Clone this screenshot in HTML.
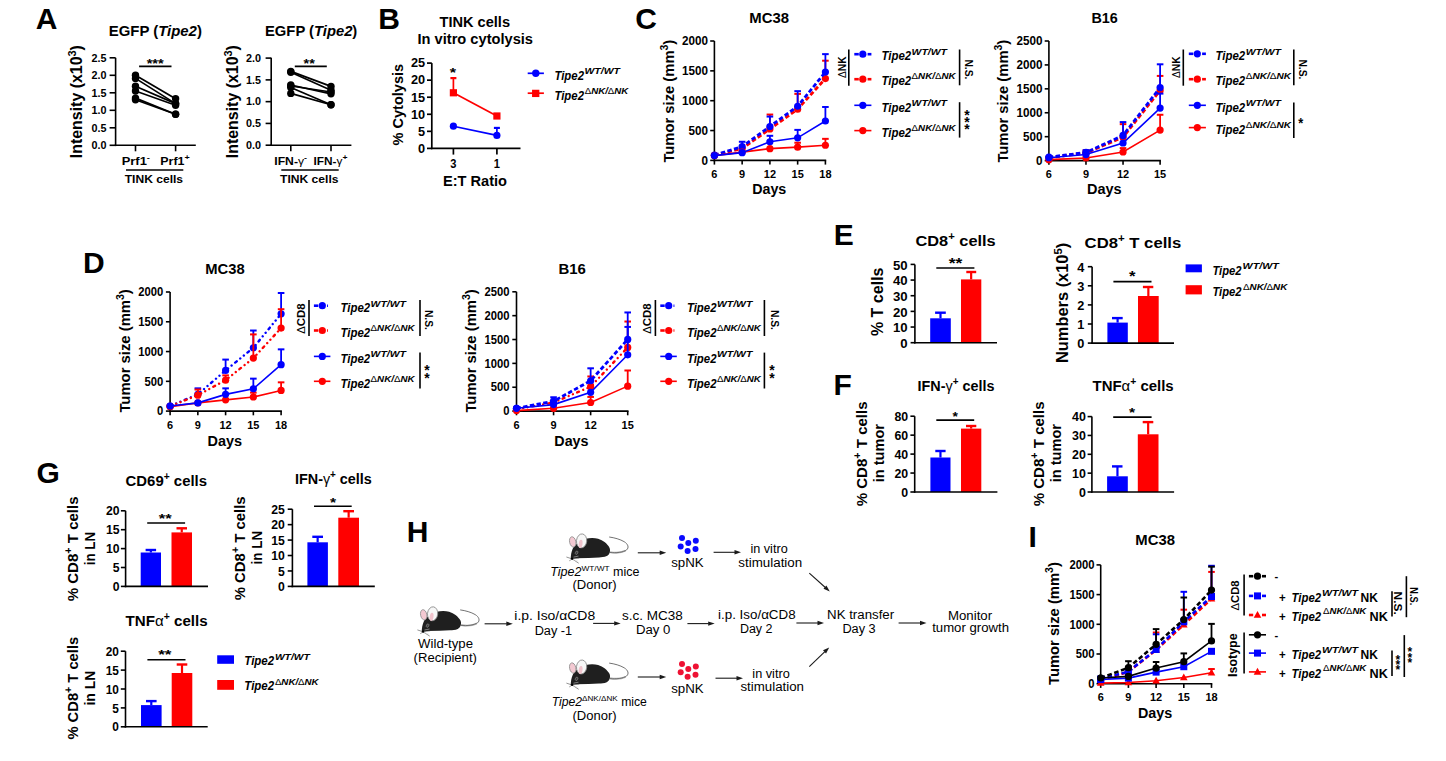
<!DOCTYPE html>
<html><head><meta charset="utf-8"><style>
html,body{margin:0;padding:0;background:#fff;}
svg{display:block;font-family:'Liberation Sans', sans-serif;font-weight:bold;}
</style></head><body>
<svg width="1446" height="761" viewBox="0 0 1446 761">
<rect width="1446" height="761" fill="#fff"/>
<text x="35.80" y="29.00" font-size="30">A</text>
<text x="108.75" y="36.00" font-size="14.5" textLength="93.15" lengthAdjust="spacingAndGlyphs">EGFP (<tspan font-style="italic">Tipe2</tspan>)</text>
<line x1="115.60" y1="146.10" x2="115.60" y2="57.80" stroke="#000" stroke-width="1.6" stroke-linecap="butt"/>
<line x1="109.60" y1="145.30" x2="115.60" y2="145.30" stroke="#000" stroke-width="1.6" stroke-linecap="butt"/>
<text x="91.60" y="149.00" font-size="10" textLength="15.00" lengthAdjust="spacingAndGlyphs">0.0</text>
<line x1="109.60" y1="127.80" x2="115.60" y2="127.80" stroke="#000" stroke-width="1.6" stroke-linecap="butt"/>
<text x="91.60" y="131.50" font-size="10" textLength="15.00" lengthAdjust="spacingAndGlyphs">0.5</text>
<line x1="109.60" y1="110.30" x2="115.60" y2="110.30" stroke="#000" stroke-width="1.6" stroke-linecap="butt"/>
<text x="91.60" y="114.00" font-size="10" textLength="15.00" lengthAdjust="spacingAndGlyphs">1.0</text>
<line x1="109.60" y1="92.80" x2="115.60" y2="92.80" stroke="#000" stroke-width="1.6" stroke-linecap="butt"/>
<text x="91.60" y="96.50" font-size="10" textLength="15.00" lengthAdjust="spacingAndGlyphs">1.5</text>
<line x1="109.60" y1="75.30" x2="115.60" y2="75.30" stroke="#000" stroke-width="1.6" stroke-linecap="butt"/>
<text x="91.60" y="79.00" font-size="10" textLength="15.00" lengthAdjust="spacingAndGlyphs">2.0</text>
<line x1="109.60" y1="57.80" x2="115.60" y2="57.80" stroke="#000" stroke-width="1.6" stroke-linecap="butt"/>
<text x="91.60" y="61.50" font-size="10" textLength="15.00" lengthAdjust="spacingAndGlyphs">2.5</text>
<text x="0.00" y="0.00" font-size="16" textLength="113.10" lengthAdjust="spacingAndGlyphs" transform="translate(82.30,158.20) rotate(-90)">Intensity (x10<tspan font-size="11" dy="-6">3</tspan><tspan dy="6">)</tspan></text>
<line x1="114.80" y1="145.30" x2="195.80" y2="145.30" stroke="#000" stroke-width="1.6" stroke-linecap="butt"/>
<line x1="135.50" y1="145.30" x2="135.50" y2="151.30" stroke="#000" stroke-width="1.6" stroke-linecap="butt"/>
<line x1="175.60" y1="145.30" x2="175.60" y2="151.30" stroke="#000" stroke-width="1.6" stroke-linecap="butt"/>
<text x="121.70" y="164.50" font-size="11" textLength="28.30" lengthAdjust="spacingAndGlyphs">Prf1<tspan font-size="8" dy="-5">-</tspan></text>
<text x="160.30" y="164.50" font-size="11" textLength="29.50" lengthAdjust="spacingAndGlyphs">Prf1<tspan font-size="8" dy="-5">+</tspan></text>
<line x1="126.00" y1="170.00" x2="183.30" y2="170.00" stroke="#000" stroke-width="1.6" stroke-linecap="butt"/>
<text x="124.70" y="183.40" font-size="11.5" textLength="58.40" lengthAdjust="spacingAndGlyphs">TINK cells</text>
<line x1="135.50" y1="75.30" x2="175.60" y2="98.80" stroke="#000" stroke-width="1.7" stroke-linecap="butt"/>
<line x1="135.50" y1="78.40" x2="175.60" y2="103.60" stroke="#000" stroke-width="1.7" stroke-linecap="butt"/>
<line x1="135.50" y1="86.30" x2="175.60" y2="103.60" stroke="#000" stroke-width="1.7" stroke-linecap="butt"/>
<line x1="135.50" y1="91.00" x2="175.60" y2="105.20" stroke="#000" stroke-width="1.7" stroke-linecap="butt"/>
<line x1="135.50" y1="98.10" x2="175.60" y2="114.30" stroke="#000" stroke-width="1.7" stroke-linecap="butt"/>
<line x1="135.50" y1="99.70" x2="175.60" y2="114.30" stroke="#000" stroke-width="1.7" stroke-linecap="butt"/>
<circle cx="135.50" cy="75.30" r="3.7" fill="#000"/>
<circle cx="175.60" cy="98.80" r="3.7" fill="#000"/>
<circle cx="135.50" cy="78.40" r="3.7" fill="#000"/>
<circle cx="175.60" cy="103.60" r="3.7" fill="#000"/>
<circle cx="135.50" cy="86.30" r="3.7" fill="#000"/>
<circle cx="175.60" cy="103.60" r="3.7" fill="#000"/>
<circle cx="135.50" cy="91.00" r="3.7" fill="#000"/>
<circle cx="175.60" cy="105.20" r="3.7" fill="#000"/>
<circle cx="135.50" cy="98.10" r="3.7" fill="#000"/>
<circle cx="175.60" cy="114.30" r="3.7" fill="#000"/>
<circle cx="135.50" cy="99.70" r="3.7" fill="#000"/>
<circle cx="175.60" cy="114.30" r="3.7" fill="#000"/>
<line x1="139.10" y1="66.40" x2="171.50" y2="66.40" stroke="#000" stroke-width="1.6" stroke-linecap="butt"/>
<text x="146.70" y="67.53" font-size="12.5" textLength="17.00" lengthAdjust="spacingAndGlyphs">***</text>
<text x="265.00" y="36.00" font-size="14.5" textLength="92.30" lengthAdjust="spacingAndGlyphs">EGFP (<tspan font-style="italic">Tipe2</tspan>)</text>
<line x1="271.20" y1="146.00" x2="271.20" y2="57.80" stroke="#000" stroke-width="1.6" stroke-linecap="butt"/>
<line x1="265.60" y1="145.20" x2="271.20" y2="145.20" stroke="#000" stroke-width="1.6" stroke-linecap="butt"/>
<text x="246.00" y="148.90" font-size="10" textLength="15.00" lengthAdjust="spacingAndGlyphs">0.0</text>
<line x1="265.60" y1="123.42" x2="271.20" y2="123.42" stroke="#000" stroke-width="1.6" stroke-linecap="butt"/>
<text x="246.00" y="127.12" font-size="10" textLength="15.00" lengthAdjust="spacingAndGlyphs">0.5</text>
<line x1="265.60" y1="101.65" x2="271.20" y2="101.65" stroke="#000" stroke-width="1.6" stroke-linecap="butt"/>
<text x="246.00" y="105.35" font-size="10" textLength="15.00" lengthAdjust="spacingAndGlyphs">1.0</text>
<line x1="265.60" y1="79.88" x2="271.20" y2="79.88" stroke="#000" stroke-width="1.6" stroke-linecap="butt"/>
<text x="246.00" y="83.58" font-size="10" textLength="15.00" lengthAdjust="spacingAndGlyphs">1.5</text>
<line x1="265.60" y1="58.10" x2="271.20" y2="58.10" stroke="#000" stroke-width="1.6" stroke-linecap="butt"/>
<text x="246.00" y="61.80" font-size="10" textLength="15.00" lengthAdjust="spacingAndGlyphs">2.0</text>
<text x="0.00" y="0.00" font-size="16" textLength="113.10" lengthAdjust="spacingAndGlyphs" transform="translate(238.20,158.20) rotate(-90)">Intensity (x10<tspan font-size="11" dy="-6">3</tspan><tspan dy="6">)</tspan></text>
<line x1="270.40" y1="145.20" x2="351.40" y2="145.20" stroke="#000" stroke-width="1.6" stroke-linecap="butt"/>
<line x1="290.80" y1="145.20" x2="290.80" y2="151.20" stroke="#000" stroke-width="1.6" stroke-linecap="butt"/>
<line x1="331.00" y1="145.20" x2="331.00" y2="151.20" stroke="#000" stroke-width="1.6" stroke-linecap="butt"/>
<text x="274.30" y="164.50" font-size="11" textLength="32.70" lengthAdjust="spacingAndGlyphs">IFN-<tspan font-weight="normal">γ</tspan><tspan font-size="8" dy="-5">-</tspan></text>
<text x="313.50" y="164.50" font-size="11" textLength="34.00" lengthAdjust="spacingAndGlyphs">IFN-<tspan font-weight="normal">γ</tspan><tspan font-size="8" dy="-5">+</tspan></text>
<line x1="281.30" y1="170.00" x2="338.70" y2="170.00" stroke="#000" stroke-width="1.6" stroke-linecap="butt"/>
<text x="280.00" y="183.40" font-size="11.5" textLength="58.50" lengthAdjust="spacingAndGlyphs">TINK cells</text>
<line x1="290.80" y1="71.40" x2="331.00" y2="86.40" stroke="#000" stroke-width="1.7" stroke-linecap="butt"/>
<line x1="290.80" y1="72.20" x2="331.00" y2="90.20" stroke="#000" stroke-width="1.7" stroke-linecap="butt"/>
<line x1="290.80" y1="85.00" x2="331.00" y2="93.80" stroke="#000" stroke-width="1.7" stroke-linecap="butt"/>
<line x1="290.80" y1="87.50" x2="331.00" y2="104.80" stroke="#000" stroke-width="1.7" stroke-linecap="butt"/>
<line x1="290.80" y1="86.00" x2="331.00" y2="92.00" stroke="#000" stroke-width="1.7" stroke-linecap="butt"/>
<line x1="290.80" y1="93.40" x2="331.00" y2="104.80" stroke="#000" stroke-width="1.7" stroke-linecap="butt"/>
<circle cx="290.80" cy="71.40" r="3.7" fill="#000"/>
<circle cx="331.00" cy="86.40" r="3.7" fill="#000"/>
<circle cx="290.80" cy="72.20" r="3.7" fill="#000"/>
<circle cx="331.00" cy="90.20" r="3.7" fill="#000"/>
<circle cx="290.80" cy="85.00" r="3.7" fill="#000"/>
<circle cx="331.00" cy="93.80" r="3.7" fill="#000"/>
<circle cx="290.80" cy="87.50" r="3.7" fill="#000"/>
<circle cx="331.00" cy="104.80" r="3.7" fill="#000"/>
<circle cx="290.80" cy="86.00" r="3.7" fill="#000"/>
<circle cx="331.00" cy="92.00" r="3.7" fill="#000"/>
<circle cx="290.80" cy="93.40" r="3.7" fill="#000"/>
<circle cx="331.00" cy="104.80" r="3.7" fill="#000"/>
<line x1="294.80" y1="66.40" x2="326.80" y2="66.40" stroke="#000" stroke-width="1.6" stroke-linecap="butt"/>
<text x="303.60" y="67.53" font-size="12.5" textLength="11.20" lengthAdjust="spacingAndGlyphs">**</text>
<text x="378.20" y="29.25" font-size="30">B</text>
<text x="439.50" y="27.00" font-size="14.5" textLength="70.50" lengthAdjust="spacingAndGlyphs">TINK cells</text>
<text x="417.50" y="43.75" font-size="14.5" textLength="115.50" lengthAdjust="spacingAndGlyphs">In vitro cytolysis</text>
<line x1="431.80" y1="149.20" x2="431.80" y2="63.10" stroke="#000" stroke-width="1.7" stroke-linecap="butt"/>
<line x1="427.00" y1="148.40" x2="431.80" y2="148.40" stroke="#000" stroke-width="1.7" stroke-linecap="butt"/>
<text x="418.10" y="152.70" font-size="12" textLength="7.10" lengthAdjust="spacingAndGlyphs">0</text>
<line x1="427.00" y1="131.34" x2="431.80" y2="131.34" stroke="#000" stroke-width="1.7" stroke-linecap="butt"/>
<text x="418.10" y="135.64" font-size="12" textLength="7.10" lengthAdjust="spacingAndGlyphs">5</text>
<line x1="427.00" y1="114.28" x2="431.80" y2="114.28" stroke="#000" stroke-width="1.7" stroke-linecap="butt"/>
<text x="411.00" y="118.58" font-size="12" textLength="14.20" lengthAdjust="spacingAndGlyphs">10</text>
<line x1="427.00" y1="97.22" x2="431.80" y2="97.22" stroke="#000" stroke-width="1.7" stroke-linecap="butt"/>
<text x="411.00" y="101.52" font-size="12" textLength="14.20" lengthAdjust="spacingAndGlyphs">15</text>
<line x1="427.00" y1="80.16" x2="431.80" y2="80.16" stroke="#000" stroke-width="1.7" stroke-linecap="butt"/>
<text x="411.00" y="84.46" font-size="12" textLength="14.20" lengthAdjust="spacingAndGlyphs">20</text>
<line x1="427.00" y1="63.10" x2="431.80" y2="63.10" stroke="#000" stroke-width="1.7" stroke-linecap="butt"/>
<text x="411.00" y="67.40" font-size="12" textLength="14.20" lengthAdjust="spacingAndGlyphs">25</text>
<line x1="431.00" y1="148.40" x2="520.50" y2="148.40" stroke="#000" stroke-width="1.7" stroke-linecap="butt"/>
<line x1="453.40" y1="148.40" x2="453.40" y2="154.60" stroke="#000" stroke-width="1.7" stroke-linecap="butt"/>
<text x="450.30" y="167.60" font-size="12" textLength="6.20" lengthAdjust="spacingAndGlyphs">3</text>
<line x1="496.90" y1="148.40" x2="496.90" y2="154.60" stroke="#000" stroke-width="1.7" stroke-linecap="butt"/>
<text x="493.80" y="167.60" font-size="12" textLength="6.20" lengthAdjust="spacingAndGlyphs">1</text>
<text x="443.00" y="185.50" font-size="14.5" textLength="64.00" lengthAdjust="spacingAndGlyphs">E:T Ratio</text>
<text x="0.00" y="0.00" font-size="14.5" textLength="81.60" lengthAdjust="spacingAndGlyphs" transform="translate(402.90,145.50) rotate(-90)">% Cytolysis</text>
<line x1="453.40" y1="126.22" x2="496.90" y2="135.43" stroke="#0000ff" stroke-width="1.7" stroke-linecap="butt"/>
<line x1="496.90" y1="135.43" x2="496.90" y2="127.93" stroke="#0000ff" stroke-width="1.7" stroke-linecap="butt"/>
<line x1="493.90" y1="127.93" x2="499.90" y2="127.93" stroke="#0000ff" stroke-width="2.2" stroke-linecap="butt"/>
<circle cx="453.40" cy="126.22" r="3.6" fill="#0000ff"/>
<circle cx="496.90" cy="135.43" r="3.6" fill="#0000ff"/>
<line x1="453.40" y1="92.78" x2="496.90" y2="115.99" stroke="#ff0000" stroke-width="1.7" stroke-linecap="butt"/>
<line x1="453.40" y1="92.78" x2="453.40" y2="78.11" stroke="#ff0000" stroke-width="1.7" stroke-linecap="butt"/>
<line x1="450.40" y1="78.11" x2="456.40" y2="78.11" stroke="#ff0000" stroke-width="2.2" stroke-linecap="butt"/>
<rect x="449.80" y="89.18" width="7.2" height="7.2" fill="#ff0000"/>
<rect x="493.30" y="112.39" width="7.2" height="7.2" fill="#ff0000"/>
<text x="449.70" y="77.42" font-size="12.5" textLength="6.30" lengthAdjust="spacingAndGlyphs">*</text>
<line x1="527.70" y1="73.30" x2="543.90" y2="73.30" stroke="#0000ff" stroke-width="1.7" stroke-linecap="butt"/>
<circle cx="535.80" cy="73.30" r="3.7" fill="#0000ff"/>
<line x1="527.70" y1="93.20" x2="543.90" y2="93.20" stroke="#ff0000" stroke-width="1.7" stroke-linecap="butt"/>
<rect x="532.05" y="89.75" width="7.3" height="7.3" fill="#ff0000"/>
<text x="554.40" y="79.90" font-size="13.2" textLength="29.60" lengthAdjust="spacingAndGlyphs"><tspan font-style="italic">Tipe2</tspan></text>
<text x="584.50" y="73.80" font-size="9.2" textLength="35.40" lengthAdjust="spacingAndGlyphs"><tspan font-style="italic">WT/WT</tspan></text>
<text x="554.40" y="99.70" font-size="13.2" textLength="29.60" lengthAdjust="spacingAndGlyphs"><tspan font-style="italic">Tipe2</tspan></text>
<text x="584.80" y="93.60" font-size="9.2" textLength="43.50" lengthAdjust="spacingAndGlyphs"><tspan font-style="italic"><tspan font-weight="normal" font-style="normal">Δ</tspan>NK/<tspan font-weight="normal" font-style="normal">Δ</tspan>NK</tspan></text>
<text x="635.30" y="28.60" font-size="30">C</text>
<text x="749.30" y="23.00" font-size="15.2" textLength="39.70" lengthAdjust="spacingAndGlyphs">MC38</text>
<text x="1091.40" y="23.10" font-size="15.2" textLength="26.30" lengthAdjust="spacingAndGlyphs">B16</text>
<line x1="714.40" y1="161.20" x2="714.40" y2="41.00" stroke="#000" stroke-width="1.6" stroke-linecap="butt"/>
<line x1="710.20" y1="160.40" x2="714.40" y2="160.40" stroke="#000" stroke-width="1.6" stroke-linecap="butt"/>
<text x="701.60" y="164.60" font-size="12" textLength="6.50" lengthAdjust="spacingAndGlyphs">0</text>
<line x1="710.20" y1="130.55" x2="714.40" y2="130.55" stroke="#000" stroke-width="1.6" stroke-linecap="butt"/>
<text x="688.60" y="134.75" font-size="12" textLength="19.50" lengthAdjust="spacingAndGlyphs">500</text>
<line x1="710.20" y1="100.70" x2="714.40" y2="100.70" stroke="#000" stroke-width="1.6" stroke-linecap="butt"/>
<text x="682.10" y="104.90" font-size="12" textLength="26.00" lengthAdjust="spacingAndGlyphs">1000</text>
<line x1="710.20" y1="70.85" x2="714.40" y2="70.85" stroke="#000" stroke-width="1.6" stroke-linecap="butt"/>
<text x="682.10" y="75.05" font-size="12" textLength="26.00" lengthAdjust="spacingAndGlyphs">1500</text>
<line x1="710.20" y1="41.00" x2="714.40" y2="41.00" stroke="#000" stroke-width="1.6" stroke-linecap="butt"/>
<text x="682.10" y="45.20" font-size="12" textLength="26.00" lengthAdjust="spacingAndGlyphs">2000</text>
<line x1="713.60" y1="160.40" x2="826.20" y2="160.40" stroke="#000" stroke-width="1.6" stroke-linecap="butt"/>
<line x1="714.40" y1="160.40" x2="714.40" y2="164.60" stroke="#000" stroke-width="1.6" stroke-linecap="butt"/>
<text x="711.35" y="178.00" font-size="11.6" textLength="6.10" lengthAdjust="spacingAndGlyphs">6</text>
<line x1="742.15" y1="160.40" x2="742.15" y2="164.60" stroke="#000" stroke-width="1.6" stroke-linecap="butt"/>
<text x="739.10" y="178.00" font-size="11.6" textLength="6.10" lengthAdjust="spacingAndGlyphs">9</text>
<line x1="769.90" y1="160.40" x2="769.90" y2="164.60" stroke="#000" stroke-width="1.6" stroke-linecap="butt"/>
<text x="763.80" y="178.00" font-size="11.6" textLength="12.20" lengthAdjust="spacingAndGlyphs">12</text>
<line x1="797.65" y1="160.40" x2="797.65" y2="164.60" stroke="#000" stroke-width="1.6" stroke-linecap="butt"/>
<text x="791.55" y="178.00" font-size="11.6" textLength="12.20" lengthAdjust="spacingAndGlyphs">15</text>
<line x1="825.40" y1="160.40" x2="825.40" y2="164.60" stroke="#000" stroke-width="1.6" stroke-linecap="butt"/>
<text x="819.30" y="178.00" font-size="11.6" textLength="12.20" lengthAdjust="spacingAndGlyphs">18</text>
<line x1="769.90" y1="128.94" x2="769.90" y2="114.55" stroke="#ff0000" stroke-width="1.8" stroke-linecap="butt"/>
<line x1="766.60" y1="114.55" x2="773.20" y2="114.55" stroke="#ff0000" stroke-width="2.0" stroke-linecap="butt"/>
<line x1="797.65" y1="109.18" x2="797.65" y2="93.89" stroke="#ff0000" stroke-width="1.8" stroke-linecap="butt"/>
<line x1="794.35" y1="93.89" x2="800.95" y2="93.89" stroke="#ff0000" stroke-width="2.0" stroke-linecap="butt"/>
<line x1="825.40" y1="78.61" x2="825.40" y2="60.70" stroke="#ff0000" stroke-width="1.8" stroke-linecap="butt"/>
<line x1="822.10" y1="60.70" x2="828.70" y2="60.70" stroke="#ff0000" stroke-width="2.0" stroke-linecap="butt"/>
<polyline points="714.40,155.33 742.15,148.46 769.90,128.94 797.65,109.18 825.40,78.61" fill="none" stroke="#ff0000" stroke-width="2.8" stroke-dasharray="4.4 2.4" stroke-linecap="butt"/>
<circle cx="714.40" cy="155.33" r="3.6" fill="#ff0000"/>
<circle cx="742.15" cy="148.46" r="3.6" fill="#ff0000"/>
<circle cx="769.90" cy="128.94" r="3.6" fill="#ff0000"/>
<circle cx="797.65" cy="109.18" r="3.6" fill="#ff0000"/>
<circle cx="825.40" cy="78.61" r="3.6" fill="#ff0000"/>
<line x1="742.15" y1="146.67" x2="742.15" y2="141.77" stroke="#0000ff" stroke-width="1.8" stroke-linecap="butt"/>
<line x1="738.85" y1="141.77" x2="745.45" y2="141.77" stroke="#0000ff" stroke-width="2.0" stroke-linecap="butt"/>
<line x1="769.90" y1="126.49" x2="769.90" y2="116.58" stroke="#0000ff" stroke-width="1.8" stroke-linecap="butt"/>
<line x1="766.60" y1="116.58" x2="773.20" y2="116.58" stroke="#0000ff" stroke-width="2.0" stroke-linecap="butt"/>
<line x1="797.65" y1="106.25" x2="797.65" y2="91.15" stroke="#0000ff" stroke-width="1.8" stroke-linecap="butt"/>
<line x1="794.35" y1="91.15" x2="800.95" y2="91.15" stroke="#0000ff" stroke-width="2.0" stroke-linecap="butt"/>
<line x1="825.40" y1="72.04" x2="825.40" y2="54.13" stroke="#0000ff" stroke-width="1.8" stroke-linecap="butt"/>
<line x1="822.10" y1="54.13" x2="828.70" y2="54.13" stroke="#0000ff" stroke-width="2.0" stroke-linecap="butt"/>
<polyline points="714.40,155.03 742.15,146.67 769.90,126.49 797.65,106.25 825.40,72.04" fill="none" stroke="#0000ff" stroke-width="2.8" stroke-dasharray="4.4 2.4" stroke-linecap="butt"/>
<circle cx="714.40" cy="155.03" r="3.6" fill="#0000ff"/>
<circle cx="742.15" cy="146.67" r="3.6" fill="#0000ff"/>
<circle cx="769.90" cy="126.49" r="3.6" fill="#0000ff"/>
<circle cx="797.65" cy="106.25" r="3.6" fill="#0000ff"/>
<circle cx="825.40" cy="72.04" r="3.6" fill="#0000ff"/>
<line x1="797.65" y1="147.15" x2="797.65" y2="142.73" stroke="#ff0000" stroke-width="1.8" stroke-linecap="butt"/>
<line x1="794.35" y1="142.73" x2="800.95" y2="142.73" stroke="#ff0000" stroke-width="2.0" stroke-linecap="butt"/>
<line x1="825.40" y1="145.24" x2="825.40" y2="138.85" stroke="#ff0000" stroke-width="1.8" stroke-linecap="butt"/>
<line x1="822.10" y1="138.85" x2="828.70" y2="138.85" stroke="#ff0000" stroke-width="2.0" stroke-linecap="butt"/>
<polyline points="714.40,155.62 742.15,152.10 769.90,148.64 797.65,147.15 825.40,145.24" fill="none" stroke="#ff0000" stroke-width="1.6"/>
<circle cx="714.40" cy="155.62" r="3.6" fill="#ff0000"/>
<circle cx="742.15" cy="152.10" r="3.6" fill="#ff0000"/>
<circle cx="769.90" cy="148.64" r="3.6" fill="#ff0000"/>
<circle cx="797.65" cy="147.15" r="3.6" fill="#ff0000"/>
<circle cx="825.40" cy="145.24" r="3.6" fill="#ff0000"/>
<line x1="769.90" y1="141.77" x2="769.90" y2="135.80" stroke="#0000ff" stroke-width="1.8" stroke-linecap="butt"/>
<line x1="766.60" y1="135.80" x2="773.20" y2="135.80" stroke="#0000ff" stroke-width="2.0" stroke-linecap="butt"/>
<line x1="797.65" y1="137.83" x2="797.65" y2="129.89" stroke="#0000ff" stroke-width="1.8" stroke-linecap="butt"/>
<line x1="794.35" y1="129.89" x2="800.95" y2="129.89" stroke="#0000ff" stroke-width="2.0" stroke-linecap="butt"/>
<line x1="825.40" y1="121.00" x2="825.40" y2="106.97" stroke="#0000ff" stroke-width="1.8" stroke-linecap="butt"/>
<line x1="822.10" y1="106.97" x2="828.70" y2="106.97" stroke="#0000ff" stroke-width="2.0" stroke-linecap="butt"/>
<polyline points="714.40,155.62 742.15,152.64 769.90,141.77 797.65,137.83 825.40,121.00" fill="none" stroke="#0000ff" stroke-width="1.6"/>
<circle cx="714.40" cy="155.62" r="3.6" fill="#0000ff"/>
<circle cx="742.15" cy="152.64" r="3.6" fill="#0000ff"/>
<circle cx="769.90" cy="141.77" r="3.6" fill="#0000ff"/>
<circle cx="797.65" cy="137.83" r="3.6" fill="#0000ff"/>
<circle cx="825.40" cy="121.00" r="3.6" fill="#0000ff"/>
<text x="0.00" y="0.00" font-size="15.5" textLength="122.90" lengthAdjust="spacingAndGlyphs" transform="translate(674.30,162.60) rotate(-90)">Tumor size (mm<tspan font-size="11" dy="-6">3</tspan><tspan dy="6">)</tspan></text>
<text x="752.20" y="193.90" font-size="14" textLength="34.10" lengthAdjust="spacingAndGlyphs">Days</text>
<line x1="1048.90" y1="161.40" x2="1048.90" y2="41.00" stroke="#000" stroke-width="1.6" stroke-linecap="butt"/>
<line x1="1044.70" y1="160.60" x2="1048.90" y2="160.60" stroke="#000" stroke-width="1.6" stroke-linecap="butt"/>
<text x="1036.10" y="164.80" font-size="12" textLength="6.50" lengthAdjust="spacingAndGlyphs">0</text>
<line x1="1044.70" y1="136.68" x2="1048.90" y2="136.68" stroke="#000" stroke-width="1.6" stroke-linecap="butt"/>
<text x="1023.10" y="140.88" font-size="12" textLength="19.50" lengthAdjust="spacingAndGlyphs">500</text>
<line x1="1044.70" y1="112.76" x2="1048.90" y2="112.76" stroke="#000" stroke-width="1.6" stroke-linecap="butt"/>
<text x="1016.60" y="116.96" font-size="12" textLength="26.00" lengthAdjust="spacingAndGlyphs">1000</text>
<line x1="1044.70" y1="88.84" x2="1048.90" y2="88.84" stroke="#000" stroke-width="1.6" stroke-linecap="butt"/>
<text x="1016.60" y="93.04" font-size="12" textLength="26.00" lengthAdjust="spacingAndGlyphs">1500</text>
<line x1="1044.70" y1="64.92" x2="1048.90" y2="64.92" stroke="#000" stroke-width="1.6" stroke-linecap="butt"/>
<text x="1016.60" y="69.12" font-size="12" textLength="26.00" lengthAdjust="spacingAndGlyphs">2000</text>
<line x1="1044.70" y1="41.00" x2="1048.90" y2="41.00" stroke="#000" stroke-width="1.6" stroke-linecap="butt"/>
<text x="1016.60" y="45.20" font-size="12" textLength="26.00" lengthAdjust="spacingAndGlyphs">2500</text>
<line x1="1048.10" y1="160.60" x2="1160.91" y2="160.60" stroke="#000" stroke-width="1.6" stroke-linecap="butt"/>
<line x1="1048.90" y1="160.60" x2="1048.90" y2="164.80" stroke="#000" stroke-width="1.6" stroke-linecap="butt"/>
<text x="1045.85" y="178.00" font-size="11.6" textLength="6.10" lengthAdjust="spacingAndGlyphs">6</text>
<line x1="1085.97" y1="160.60" x2="1085.97" y2="164.80" stroke="#000" stroke-width="1.6" stroke-linecap="butt"/>
<text x="1082.92" y="178.00" font-size="11.6" textLength="6.10" lengthAdjust="spacingAndGlyphs">9</text>
<line x1="1123.04" y1="160.60" x2="1123.04" y2="164.80" stroke="#000" stroke-width="1.6" stroke-linecap="butt"/>
<text x="1116.94" y="178.00" font-size="11.6" textLength="12.20" lengthAdjust="spacingAndGlyphs">12</text>
<line x1="1160.11" y1="160.60" x2="1160.11" y2="164.80" stroke="#000" stroke-width="1.6" stroke-linecap="butt"/>
<text x="1154.01" y="178.00" font-size="11.6" textLength="12.20" lengthAdjust="spacingAndGlyphs">15</text>
<line x1="1085.97" y1="152.95" x2="1085.97" y2="150.31" stroke="#ff0000" stroke-width="1.8" stroke-linecap="butt"/>
<line x1="1082.67" y1="150.31" x2="1089.27" y2="150.31" stroke="#ff0000" stroke-width="2.0" stroke-linecap="butt"/>
<line x1="1123.04" y1="137.16" x2="1123.04" y2="124.15" stroke="#ff0000" stroke-width="1.8" stroke-linecap="butt"/>
<line x1="1119.74" y1="124.15" x2="1126.34" y2="124.15" stroke="#ff0000" stroke-width="2.0" stroke-linecap="butt"/>
<line x1="1160.11" y1="90.42" x2="1160.11" y2="75.92" stroke="#ff0000" stroke-width="1.8" stroke-linecap="butt"/>
<line x1="1156.81" y1="75.92" x2="1163.41" y2="75.92" stroke="#ff0000" stroke-width="2.0" stroke-linecap="butt"/>
<polyline points="1048.90,157.73 1085.97,152.95 1123.04,137.16 1160.11,90.42" fill="none" stroke="#ff0000" stroke-width="2.8" stroke-dasharray="4.4 2.4" stroke-linecap="butt"/>
<circle cx="1048.90" cy="157.73" r="3.6" fill="#ff0000"/>
<circle cx="1085.97" cy="152.95" r="3.6" fill="#ff0000"/>
<circle cx="1123.04" cy="137.16" r="3.6" fill="#ff0000"/>
<circle cx="1160.11" cy="90.42" r="3.6" fill="#ff0000"/>
<line x1="1085.97" y1="152.47" x2="1085.97" y2="150.31" stroke="#0000ff" stroke-width="1.8" stroke-linecap="butt"/>
<line x1="1082.67" y1="150.31" x2="1089.27" y2="150.31" stroke="#0000ff" stroke-width="2.0" stroke-linecap="butt"/>
<line x1="1123.04" y1="135.39" x2="1123.04" y2="122.09" stroke="#0000ff" stroke-width="1.8" stroke-linecap="butt"/>
<line x1="1119.74" y1="122.09" x2="1126.34" y2="122.09" stroke="#0000ff" stroke-width="2.0" stroke-linecap="butt"/>
<line x1="1160.11" y1="87.55" x2="1160.11" y2="64.30" stroke="#0000ff" stroke-width="1.8" stroke-linecap="butt"/>
<line x1="1156.81" y1="64.30" x2="1163.41" y2="64.30" stroke="#0000ff" stroke-width="2.0" stroke-linecap="butt"/>
<polyline points="1048.90,157.11 1085.97,152.47 1123.04,135.39 1160.11,87.55" fill="none" stroke="#0000ff" stroke-width="2.8" stroke-dasharray="4.4 2.4" stroke-linecap="butt"/>
<circle cx="1048.90" cy="157.11" r="3.6" fill="#0000ff"/>
<circle cx="1085.97" cy="152.47" r="3.6" fill="#0000ff"/>
<circle cx="1123.04" cy="135.39" r="3.6" fill="#0000ff"/>
<circle cx="1160.11" cy="87.55" r="3.6" fill="#0000ff"/>
<line x1="1123.04" y1="151.99" x2="1123.04" y2="148.11" stroke="#ff0000" stroke-width="1.8" stroke-linecap="butt"/>
<line x1="1119.74" y1="148.11" x2="1126.34" y2="148.11" stroke="#ff0000" stroke-width="2.0" stroke-linecap="butt"/>
<line x1="1160.11" y1="130.08" x2="1160.11" y2="114.77" stroke="#ff0000" stroke-width="1.8" stroke-linecap="butt"/>
<line x1="1156.81" y1="114.77" x2="1163.41" y2="114.77" stroke="#ff0000" stroke-width="2.0" stroke-linecap="butt"/>
<polyline points="1048.90,159.64 1085.97,158.02 1123.04,151.99 1160.11,130.08" fill="none" stroke="#ff0000" stroke-width="1.6"/>
<circle cx="1048.90" cy="159.64" r="3.6" fill="#ff0000"/>
<circle cx="1085.97" cy="158.02" r="3.6" fill="#ff0000"/>
<circle cx="1123.04" cy="151.99" r="3.6" fill="#ff0000"/>
<circle cx="1160.11" cy="130.08" r="3.6" fill="#ff0000"/>
<line x1="1160.11" y1="108.07" x2="1160.11" y2="93.62" stroke="#0000ff" stroke-width="1.8" stroke-linecap="butt"/>
<line x1="1156.81" y1="93.62" x2="1163.41" y2="93.62" stroke="#0000ff" stroke-width="2.0" stroke-linecap="butt"/>
<polyline points="1048.90,157.73 1085.97,154.57 1123.04,142.99 1160.11,108.07" fill="none" stroke="#0000ff" stroke-width="1.6"/>
<circle cx="1048.90" cy="157.73" r="3.6" fill="#0000ff"/>
<circle cx="1085.97" cy="154.57" r="3.6" fill="#0000ff"/>
<circle cx="1123.04" cy="142.99" r="3.6" fill="#0000ff"/>
<circle cx="1160.11" cy="108.07" r="3.6" fill="#0000ff"/>
<text x="0.00" y="0.00" font-size="15.5" textLength="122.90" lengthAdjust="spacingAndGlyphs" transform="translate(1008.20,162.60) rotate(-90)">Tumor size (mm<tspan font-size="11" dy="-6">3</tspan><tspan dy="6">)</tspan></text>
<text x="1087.00" y="193.90" font-size="14" textLength="34.60" lengthAdjust="spacingAndGlyphs">Days</text>
<text x="0.00" y="0.00" font-size="11.5" textLength="21.70" lengthAdjust="spacingAndGlyphs" transform="translate(845.80,78.10) rotate(-90)"><tspan font-weight="normal">Δ</tspan>NK</text>
<line x1="848.80" y1="49.50" x2="848.80" y2="85.70" stroke="#000" stroke-width="1.6" stroke-linecap="butt"/>
<line x1="854.30" y1="54.20" x2="858.80" y2="54.20" stroke="#0000ff" stroke-width="2.6" stroke-linecap="butt"/>
<line x1="867.60" y1="54.20" x2="871.40" y2="54.20" stroke="#0000ff" stroke-width="2.6" stroke-linecap="butt"/>
<circle cx="862.80" cy="54.20" r="3.6" fill="#0000ff"/>
<text x="881.50" y="60.40" font-size="12" textLength="29.60" lengthAdjust="spacingAndGlyphs"><tspan font-style="italic">Tipe2</tspan></text>
<text x="911.60" y="55.10" font-size="9.5" textLength="35.30" lengthAdjust="spacingAndGlyphs"><tspan font-style="italic">WT/WT</tspan></text>
<line x1="854.30" y1="79.20" x2="858.80" y2="79.20" stroke="#ff0000" stroke-width="2.6" stroke-linecap="butt"/>
<line x1="867.60" y1="79.20" x2="871.40" y2="79.20" stroke="#ff0000" stroke-width="2.6" stroke-linecap="butt"/>
<circle cx="862.80" cy="79.20" r="3.6" fill="#ff0000"/>
<text x="881.50" y="85.40" font-size="12" textLength="29.60" lengthAdjust="spacingAndGlyphs"><tspan font-style="italic">Tipe2</tspan></text>
<text x="911.60" y="79.40" font-size="9.5" textLength="43.90" lengthAdjust="spacingAndGlyphs"><tspan font-style="italic"><tspan font-weight="normal" font-style="normal">Δ</tspan>NK/<tspan font-weight="normal" font-style="normal">Δ</tspan>NK</tspan></text>
<line x1="854.30" y1="105.30" x2="871.40" y2="105.30" stroke="#0000ff" stroke-width="1.6" stroke-linecap="butt"/>
<circle cx="862.80" cy="105.30" r="3.6" fill="#0000ff"/>
<text x="881.50" y="111.50" font-size="12" textLength="29.60" lengthAdjust="spacingAndGlyphs"><tspan font-style="italic">Tipe2</tspan></text>
<text x="911.60" y="106.20" font-size="9.5" textLength="35.30" lengthAdjust="spacingAndGlyphs"><tspan font-style="italic">WT/WT</tspan></text>
<line x1="854.30" y1="130.60" x2="871.40" y2="130.60" stroke="#ff0000" stroke-width="1.6" stroke-linecap="butt"/>
<circle cx="862.80" cy="130.60" r="3.6" fill="#ff0000"/>
<text x="881.50" y="136.80" font-size="12" textLength="29.60" lengthAdjust="spacingAndGlyphs"><tspan font-style="italic">Tipe2</tspan></text>
<text x="911.60" y="130.80" font-size="9.5" textLength="43.90" lengthAdjust="spacingAndGlyphs"><tspan font-style="italic"><tspan font-weight="normal" font-style="normal">Δ</tspan>NK/<tspan font-weight="normal" font-style="normal">Δ</tspan>NK</tspan></text>
<line x1="959.60" y1="49.50" x2="959.60" y2="85.30" stroke="#000" stroke-width="1.6" stroke-linecap="butt"/>
<line x1="959.60" y1="102.20" x2="959.60" y2="137.60" stroke="#000" stroke-width="1.6" stroke-linecap="butt"/>
<text x="0.00" y="0.00" font-size="11" textLength="20.00" lengthAdjust="spacingAndGlyphs" transform="translate(964.60,59.40) rotate(90)">N.S.</text>
<text x="964.24" y="119.64" font-size="14">*</text>
<text x="964.24" y="126.74" font-size="14">*</text>
<text x="964.24" y="133.84" font-size="14">*</text>
<text x="0.00" y="0.00" font-size="11.5" textLength="21.70" lengthAdjust="spacingAndGlyphs" transform="translate(1180.30,78.10) rotate(-90)"><tspan font-weight="normal">Δ</tspan>NK</text>
<line x1="1183.30" y1="49.50" x2="1183.30" y2="85.70" stroke="#000" stroke-width="1.6" stroke-linecap="butt"/>
<line x1="1188.80" y1="53.80" x2="1193.30" y2="53.80" stroke="#0000ff" stroke-width="2.6" stroke-linecap="butt"/>
<line x1="1202.10" y1="53.80" x2="1205.90" y2="53.80" stroke="#0000ff" stroke-width="2.6" stroke-linecap="butt"/>
<circle cx="1197.30" cy="53.80" r="3.6" fill="#0000ff"/>
<text x="1215.60" y="60.00" font-size="12" textLength="29.60" lengthAdjust="spacingAndGlyphs"><tspan font-style="italic">Tipe2</tspan></text>
<text x="1245.70" y="54.70" font-size="9.5" textLength="35.30" lengthAdjust="spacingAndGlyphs"><tspan font-style="italic">WT/WT</tspan></text>
<line x1="1188.80" y1="79.20" x2="1193.30" y2="79.20" stroke="#ff0000" stroke-width="2.6" stroke-linecap="butt"/>
<line x1="1202.10" y1="79.20" x2="1205.90" y2="79.20" stroke="#ff0000" stroke-width="2.6" stroke-linecap="butt"/>
<circle cx="1197.30" cy="79.20" r="3.6" fill="#ff0000"/>
<text x="1215.60" y="85.40" font-size="12" textLength="29.60" lengthAdjust="spacingAndGlyphs"><tspan font-style="italic">Tipe2</tspan></text>
<text x="1245.70" y="79.40" font-size="9.5" textLength="45.30" lengthAdjust="spacingAndGlyphs"><tspan font-style="italic"><tspan font-weight="normal" font-style="normal">Δ</tspan>NK/<tspan font-weight="normal" font-style="normal">Δ</tspan>NK</tspan></text>
<line x1="1188.80" y1="105.30" x2="1205.90" y2="105.30" stroke="#0000ff" stroke-width="1.6" stroke-linecap="butt"/>
<circle cx="1197.30" cy="105.30" r="3.6" fill="#0000ff"/>
<text x="1215.60" y="111.50" font-size="12" textLength="29.60" lengthAdjust="spacingAndGlyphs"><tspan font-style="italic">Tipe2</tspan></text>
<text x="1245.70" y="106.20" font-size="9.5" textLength="35.30" lengthAdjust="spacingAndGlyphs"><tspan font-style="italic">WT/WT</tspan></text>
<line x1="1188.80" y1="127.60" x2="1205.90" y2="127.60" stroke="#ff0000" stroke-width="1.6" stroke-linecap="butt"/>
<circle cx="1197.30" cy="127.60" r="3.6" fill="#ff0000"/>
<text x="1215.60" y="133.80" font-size="12" textLength="29.60" lengthAdjust="spacingAndGlyphs"><tspan font-style="italic">Tipe2</tspan></text>
<text x="1245.70" y="127.80" font-size="9.5" textLength="45.30" lengthAdjust="spacingAndGlyphs"><tspan font-style="italic"><tspan font-weight="normal" font-style="normal">Δ</tspan>NK/<tspan font-weight="normal" font-style="normal">Δ</tspan>NK</tspan></text>
<line x1="1293.80" y1="49.50" x2="1293.80" y2="85.30" stroke="#000" stroke-width="1.6" stroke-linecap="butt"/>
<line x1="1293.80" y1="102.40" x2="1293.80" y2="137.90" stroke="#000" stroke-width="1.6" stroke-linecap="butt"/>
<text x="0.00" y="0.00" font-size="11" textLength="20.00" lengthAdjust="spacingAndGlyphs" transform="translate(1299.10,59.40) rotate(90)">N.S.</text>
<text x="1298.20" y="127.66" font-size="14" textLength="5.00" lengthAdjust="spacingAndGlyphs">*</text>
<text x="83.00" y="272.60" font-size="30">D</text>
<text x="205.30" y="273.70" font-size="15.2" textLength="39.40" lengthAdjust="spacingAndGlyphs">MC38</text>
<text x="558.40" y="273.70" font-size="15.2" textLength="27.40" lengthAdjust="spacingAndGlyphs">B16</text>
<line x1="170.10" y1="411.90" x2="170.10" y2="292.00" stroke="#000" stroke-width="1.6" stroke-linecap="butt"/>
<line x1="165.90" y1="411.10" x2="170.10" y2="411.10" stroke="#000" stroke-width="1.6" stroke-linecap="butt"/>
<text x="156.95" y="415.30" font-size="12" textLength="6.25" lengthAdjust="spacingAndGlyphs">0</text>
<line x1="165.90" y1="381.33" x2="170.10" y2="381.33" stroke="#000" stroke-width="1.6" stroke-linecap="butt"/>
<text x="144.45" y="385.53" font-size="12" textLength="18.75" lengthAdjust="spacingAndGlyphs">500</text>
<line x1="165.90" y1="351.55" x2="170.10" y2="351.55" stroke="#000" stroke-width="1.6" stroke-linecap="butt"/>
<text x="138.20" y="355.75" font-size="12" textLength="25.00" lengthAdjust="spacingAndGlyphs">1000</text>
<line x1="165.90" y1="321.77" x2="170.10" y2="321.77" stroke="#000" stroke-width="1.6" stroke-linecap="butt"/>
<text x="138.20" y="325.97" font-size="12" textLength="25.00" lengthAdjust="spacingAndGlyphs">1500</text>
<line x1="165.90" y1="292.00" x2="170.10" y2="292.00" stroke="#000" stroke-width="1.6" stroke-linecap="butt"/>
<text x="138.20" y="296.20" font-size="12" textLength="25.00" lengthAdjust="spacingAndGlyphs">2000</text>
<line x1="169.30" y1="411.10" x2="281.90" y2="411.10" stroke="#000" stroke-width="1.6" stroke-linecap="butt"/>
<line x1="170.10" y1="411.10" x2="170.10" y2="415.30" stroke="#000" stroke-width="1.6" stroke-linecap="butt"/>
<text x="167.05" y="428.60" font-size="11.6" textLength="6.10" lengthAdjust="spacingAndGlyphs">6</text>
<line x1="197.85" y1="411.10" x2="197.85" y2="415.30" stroke="#000" stroke-width="1.6" stroke-linecap="butt"/>
<text x="194.80" y="428.60" font-size="11.6" textLength="6.10" lengthAdjust="spacingAndGlyphs">9</text>
<line x1="225.60" y1="411.10" x2="225.60" y2="415.30" stroke="#000" stroke-width="1.6" stroke-linecap="butt"/>
<text x="219.50" y="428.60" font-size="11.6" textLength="12.20" lengthAdjust="spacingAndGlyphs">12</text>
<line x1="253.35" y1="411.10" x2="253.35" y2="415.30" stroke="#000" stroke-width="1.6" stroke-linecap="butt"/>
<text x="247.25" y="428.60" font-size="11.6" textLength="12.20" lengthAdjust="spacingAndGlyphs">15</text>
<line x1="281.10" y1="411.10" x2="281.10" y2="415.30" stroke="#000" stroke-width="1.6" stroke-linecap="butt"/>
<text x="275.00" y="428.60" font-size="11.6" textLength="12.20" lengthAdjust="spacingAndGlyphs">18</text>
<line x1="197.85" y1="394.37" x2="197.85" y2="388.35" stroke="#0000ff" stroke-width="1.8" stroke-linecap="butt"/>
<line x1="194.55" y1="388.35" x2="201.15" y2="388.35" stroke="#0000ff" stroke-width="2.0" stroke-linecap="butt"/>
<line x1="225.60" y1="370.43" x2="225.60" y2="359.59" stroke="#0000ff" stroke-width="1.8" stroke-linecap="butt"/>
<line x1="222.30" y1="359.59" x2="228.90" y2="359.59" stroke="#0000ff" stroke-width="2.0" stroke-linecap="butt"/>
<line x1="253.35" y1="347.74" x2="253.35" y2="330.53" stroke="#0000ff" stroke-width="1.8" stroke-linecap="butt"/>
<line x1="250.05" y1="330.53" x2="256.65" y2="330.53" stroke="#0000ff" stroke-width="2.0" stroke-linecap="butt"/>
<line x1="281.10" y1="313.85" x2="281.10" y2="293.01" stroke="#0000ff" stroke-width="1.8" stroke-linecap="butt"/>
<line x1="277.80" y1="293.01" x2="284.40" y2="293.01" stroke="#0000ff" stroke-width="2.0" stroke-linecap="butt"/>
<polyline points="170.10,405.98 197.85,394.37 225.60,370.43 253.35,347.74 281.10,313.85" fill="none" stroke="#0000ff" stroke-width="2.4" stroke-dasharray="2.0 4.6 0.01 4.6 0.01 4.6" stroke-linecap="round"/>
<circle cx="170.10" cy="405.98" r="3.6" fill="#0000ff"/>
<circle cx="197.85" cy="394.37" r="3.6" fill="#0000ff"/>
<circle cx="225.60" cy="370.43" r="3.6" fill="#0000ff"/>
<circle cx="253.35" cy="347.74" r="3.6" fill="#0000ff"/>
<circle cx="281.10" cy="313.85" r="3.6" fill="#0000ff"/>
<line x1="197.85" y1="395.14" x2="197.85" y2="389.54" stroke="#ff0000" stroke-width="1.8" stroke-linecap="butt"/>
<line x1="194.55" y1="389.54" x2="201.15" y2="389.54" stroke="#ff0000" stroke-width="2.0" stroke-linecap="butt"/>
<line x1="225.60" y1="380.13" x2="225.60" y2="375.37" stroke="#ff0000" stroke-width="1.8" stroke-linecap="butt"/>
<line x1="222.30" y1="375.37" x2="228.90" y2="375.37" stroke="#ff0000" stroke-width="2.0" stroke-linecap="butt"/>
<line x1="253.35" y1="358.10" x2="253.35" y2="334.40" stroke="#ff0000" stroke-width="1.8" stroke-linecap="butt"/>
<line x1="250.05" y1="334.40" x2="256.65" y2="334.40" stroke="#ff0000" stroke-width="2.0" stroke-linecap="butt"/>
<line x1="281.10" y1="328.09" x2="281.10" y2="309.21" stroke="#ff0000" stroke-width="1.8" stroke-linecap="butt"/>
<line x1="277.80" y1="309.21" x2="284.40" y2="309.21" stroke="#ff0000" stroke-width="2.0" stroke-linecap="butt"/>
<polyline points="170.10,406.34 197.85,395.14 225.60,380.13 253.35,358.10 281.10,328.09" fill="none" stroke="#ff0000" stroke-width="2.4" stroke-dasharray="2.0 4.6 0.01 4.6 0.01 4.6" stroke-linecap="round"/>
<circle cx="170.10" cy="406.34" r="3.6" fill="#ff0000"/>
<circle cx="197.85" cy="395.14" r="3.6" fill="#ff0000"/>
<circle cx="225.60" cy="380.13" r="3.6" fill="#ff0000"/>
<circle cx="253.35" cy="358.10" r="3.6" fill="#ff0000"/>
<circle cx="281.10" cy="328.09" r="3.6" fill="#ff0000"/>
<line x1="253.35" y1="396.99" x2="253.35" y2="392.64" stroke="#ff0000" stroke-width="1.8" stroke-linecap="butt"/>
<line x1="250.05" y1="392.64" x2="256.65" y2="392.64" stroke="#ff0000" stroke-width="2.0" stroke-linecap="butt"/>
<line x1="281.10" y1="390.44" x2="281.10" y2="382.34" stroke="#ff0000" stroke-width="1.8" stroke-linecap="butt"/>
<line x1="277.80" y1="382.34" x2="284.40" y2="382.34" stroke="#ff0000" stroke-width="2.0" stroke-linecap="butt"/>
<polyline points="170.10,406.63 197.85,402.88 225.60,399.85 253.35,396.99 281.10,390.44" fill="none" stroke="#ff0000" stroke-width="1.6"/>
<circle cx="170.10" cy="406.63" r="3.6" fill="#ff0000"/>
<circle cx="197.85" cy="402.88" r="3.6" fill="#ff0000"/>
<circle cx="225.60" cy="399.85" r="3.6" fill="#ff0000"/>
<circle cx="253.35" cy="396.99" r="3.6" fill="#ff0000"/>
<circle cx="281.10" cy="390.44" r="3.6" fill="#ff0000"/>
<line x1="225.60" y1="394.37" x2="225.60" y2="388.35" stroke="#0000ff" stroke-width="1.8" stroke-linecap="butt"/>
<line x1="222.30" y1="388.35" x2="228.90" y2="388.35" stroke="#0000ff" stroke-width="2.0" stroke-linecap="butt"/>
<line x1="253.35" y1="388.77" x2="253.35" y2="378.65" stroke="#0000ff" stroke-width="1.8" stroke-linecap="butt"/>
<line x1="250.05" y1="378.65" x2="256.65" y2="378.65" stroke="#0000ff" stroke-width="2.0" stroke-linecap="butt"/>
<line x1="281.10" y1="364.71" x2="281.10" y2="349.35" stroke="#0000ff" stroke-width="1.8" stroke-linecap="butt"/>
<line x1="277.80" y1="349.35" x2="284.40" y2="349.35" stroke="#0000ff" stroke-width="2.0" stroke-linecap="butt"/>
<polyline points="170.10,405.98 197.85,402.88 225.60,394.37 253.35,388.77 281.10,364.71" fill="none" stroke="#0000ff" stroke-width="1.6"/>
<circle cx="170.10" cy="405.98" r="3.6" fill="#0000ff"/>
<circle cx="197.85" cy="402.88" r="3.6" fill="#0000ff"/>
<circle cx="225.60" cy="394.37" r="3.6" fill="#0000ff"/>
<circle cx="253.35" cy="388.77" r="3.6" fill="#0000ff"/>
<circle cx="281.10" cy="364.71" r="3.6" fill="#0000ff"/>
<text x="0.00" y="0.00" font-size="15.5" textLength="123.40" lengthAdjust="spacingAndGlyphs" transform="translate(129.80,412.60) rotate(-90)">Tumor size (mm<tspan font-size="11" dy="-6">3</tspan><tspan dy="6">)</tspan></text>
<text x="207.50" y="445.60" font-size="14" textLength="34.50" lengthAdjust="spacingAndGlyphs">Days</text>
<line x1="516.50" y1="411.90" x2="516.50" y2="291.80" stroke="#000" stroke-width="1.6" stroke-linecap="butt"/>
<line x1="512.30" y1="411.10" x2="516.50" y2="411.10" stroke="#000" stroke-width="1.6" stroke-linecap="butt"/>
<text x="503.35" y="415.30" font-size="12" textLength="6.25" lengthAdjust="spacingAndGlyphs">0</text>
<line x1="512.30" y1="387.24" x2="516.50" y2="387.24" stroke="#000" stroke-width="1.6" stroke-linecap="butt"/>
<text x="490.85" y="391.44" font-size="12" textLength="18.75" lengthAdjust="spacingAndGlyphs">500</text>
<line x1="512.30" y1="363.38" x2="516.50" y2="363.38" stroke="#000" stroke-width="1.6" stroke-linecap="butt"/>
<text x="484.60" y="367.58" font-size="12" textLength="25.00" lengthAdjust="spacingAndGlyphs">1000</text>
<line x1="512.30" y1="339.52" x2="516.50" y2="339.52" stroke="#000" stroke-width="1.6" stroke-linecap="butt"/>
<text x="484.60" y="343.72" font-size="12" textLength="25.00" lengthAdjust="spacingAndGlyphs">1500</text>
<line x1="512.30" y1="315.66" x2="516.50" y2="315.66" stroke="#000" stroke-width="1.6" stroke-linecap="butt"/>
<text x="484.60" y="319.86" font-size="12" textLength="25.00" lengthAdjust="spacingAndGlyphs">2000</text>
<line x1="512.30" y1="291.80" x2="516.50" y2="291.80" stroke="#000" stroke-width="1.6" stroke-linecap="butt"/>
<text x="484.60" y="296.00" font-size="12" textLength="25.00" lengthAdjust="spacingAndGlyphs">2500</text>
<line x1="515.70" y1="411.10" x2="628.51" y2="411.10" stroke="#000" stroke-width="1.6" stroke-linecap="butt"/>
<line x1="516.50" y1="411.10" x2="516.50" y2="415.30" stroke="#000" stroke-width="1.6" stroke-linecap="butt"/>
<text x="513.45" y="428.60" font-size="11.6" textLength="6.10" lengthAdjust="spacingAndGlyphs">6</text>
<line x1="553.57" y1="411.10" x2="553.57" y2="415.30" stroke="#000" stroke-width="1.6" stroke-linecap="butt"/>
<text x="550.52" y="428.60" font-size="11.6" textLength="6.10" lengthAdjust="spacingAndGlyphs">9</text>
<line x1="590.64" y1="411.10" x2="590.64" y2="415.30" stroke="#000" stroke-width="1.6" stroke-linecap="butt"/>
<text x="584.54" y="428.60" font-size="11.6" textLength="12.20" lengthAdjust="spacingAndGlyphs">12</text>
<line x1="627.71" y1="411.10" x2="627.71" y2="415.30" stroke="#000" stroke-width="1.6" stroke-linecap="butt"/>
<text x="621.61" y="428.60" font-size="11.6" textLength="12.20" lengthAdjust="spacingAndGlyphs">15</text>
<line x1="590.64" y1="386.67" x2="590.64" y2="376.46" stroke="#ff0000" stroke-width="1.8" stroke-linecap="butt"/>
<line x1="587.34" y1="376.46" x2="593.94" y2="376.46" stroke="#ff0000" stroke-width="2.0" stroke-linecap="butt"/>
<line x1="627.71" y1="347.44" x2="627.71" y2="321.53" stroke="#ff0000" stroke-width="1.8" stroke-linecap="butt"/>
<line x1="624.41" y1="321.53" x2="631.01" y2="321.53" stroke="#ff0000" stroke-width="2.0" stroke-linecap="butt"/>
<polyline points="516.50,409.19 553.57,402.51 590.64,386.67 627.71,347.44" fill="none" stroke="#ff0000" stroke-width="2.4" stroke-dasharray="2.0 4.6 0.01 4.6 0.01 4.6" stroke-linecap="round"/>
<circle cx="516.50" cy="409.19" r="3.6" fill="#ff0000"/>
<circle cx="553.57" cy="402.51" r="3.6" fill="#ff0000"/>
<circle cx="590.64" cy="386.67" r="3.6" fill="#ff0000"/>
<circle cx="627.71" cy="347.44" r="3.6" fill="#ff0000"/>
<line x1="553.57" y1="401.22" x2="553.57" y2="397.26" stroke="#0000ff" stroke-width="1.8" stroke-linecap="butt"/>
<line x1="550.27" y1="397.26" x2="556.87" y2="397.26" stroke="#0000ff" stroke-width="2.0" stroke-linecap="butt"/>
<line x1="590.64" y1="380.75" x2="590.64" y2="368.30" stroke="#0000ff" stroke-width="1.8" stroke-linecap="butt"/>
<line x1="587.34" y1="368.30" x2="593.94" y2="368.30" stroke="#0000ff" stroke-width="2.0" stroke-linecap="butt"/>
<line x1="627.71" y1="339.42" x2="627.71" y2="312.46" stroke="#0000ff" stroke-width="1.8" stroke-linecap="butt"/>
<line x1="624.41" y1="312.46" x2="631.01" y2="312.46" stroke="#0000ff" stroke-width="2.0" stroke-linecap="butt"/>
<polyline points="516.50,408.28 553.57,401.22 590.64,380.75 627.71,339.42" fill="none" stroke="#0000ff" stroke-width="2.8" stroke-dasharray="4.4 2.4" stroke-linecap="butt"/>
<circle cx="516.50" cy="408.28" r="3.6" fill="#0000ff"/>
<circle cx="553.57" cy="401.22" r="3.6" fill="#0000ff"/>
<circle cx="590.64" cy="380.75" r="3.6" fill="#0000ff"/>
<circle cx="627.71" cy="339.42" r="3.6" fill="#0000ff"/>
<line x1="590.64" y1="402.51" x2="590.64" y2="396.93" stroke="#ff0000" stroke-width="1.8" stroke-linecap="butt"/>
<line x1="587.34" y1="396.93" x2="593.94" y2="396.93" stroke="#ff0000" stroke-width="2.0" stroke-linecap="butt"/>
<line x1="627.71" y1="386.14" x2="627.71" y2="370.49" stroke="#ff0000" stroke-width="1.8" stroke-linecap="butt"/>
<line x1="624.41" y1="370.49" x2="631.01" y2="370.49" stroke="#ff0000" stroke-width="2.0" stroke-linecap="butt"/>
<polyline points="516.50,410.62 553.57,408.28 590.64,402.51 627.71,386.14" fill="none" stroke="#ff0000" stroke-width="1.6"/>
<circle cx="516.50" cy="410.62" r="3.6" fill="#ff0000"/>
<circle cx="553.57" cy="408.28" r="3.6" fill="#ff0000"/>
<circle cx="590.64" cy="402.51" r="3.6" fill="#ff0000"/>
<circle cx="627.71" cy="386.14" r="3.6" fill="#ff0000"/>
<line x1="627.71" y1="354.79" x2="627.71" y2="326.92" stroke="#0000ff" stroke-width="1.8" stroke-linecap="butt"/>
<line x1="624.41" y1="326.92" x2="631.01" y2="326.92" stroke="#0000ff" stroke-width="2.0" stroke-linecap="butt"/>
<polyline points="516.50,408.28 553.57,404.61 590.64,392.35 627.71,354.79" fill="none" stroke="#0000ff" stroke-width="1.6"/>
<circle cx="516.50" cy="408.28" r="3.6" fill="#0000ff"/>
<circle cx="553.57" cy="404.61" r="3.6" fill="#0000ff"/>
<circle cx="590.64" cy="392.35" r="3.6" fill="#0000ff"/>
<circle cx="627.71" cy="354.79" r="3.6" fill="#0000ff"/>
<text x="0.00" y="0.00" font-size="15.5" textLength="123.40" lengthAdjust="spacingAndGlyphs" transform="translate(475.80,412.60) rotate(-90)">Tumor size (mm<tspan font-size="11" dy="-6">3</tspan><tspan dy="6">)</tspan></text>
<text x="554.30" y="445.60" font-size="14" textLength="34.20" lengthAdjust="spacingAndGlyphs">Days</text>
<text x="0.00" y="0.00" font-size="11.5" textLength="30.30" lengthAdjust="spacingAndGlyphs" transform="translate(304.60,333.80) rotate(-90)"><tspan font-weight="normal">Δ</tspan>CD8</text>
<line x1="309.00" y1="300.00" x2="309.00" y2="336.00" stroke="#000" stroke-width="1.6" stroke-linecap="butt"/>
<line x1="313.90" y1="305.70" x2="318.30" y2="305.70" stroke="#0000ff" stroke-width="2.6" stroke-linecap="butt"/>
<line x1="327.10" y1="305.70" x2="328.00" y2="305.70" stroke="#0000ff" stroke-width="2.6" stroke-linecap="butt"/>
<circle cx="322.30" cy="305.70" r="3.6" fill="#0000ff"/>
<text x="340.50" y="311.90" font-size="12" textLength="29.60" lengthAdjust="spacingAndGlyphs"><tspan font-style="italic">Tipe2</tspan></text>
<text x="370.60" y="306.60" font-size="9.5" textLength="35.30" lengthAdjust="spacingAndGlyphs"><tspan font-style="italic">WT/WT</tspan></text>
<line x1="313.90" y1="330.50" x2="318.30" y2="330.50" stroke="#ff0000" stroke-width="2.6" stroke-linecap="butt"/>
<line x1="327.10" y1="330.50" x2="328.00" y2="330.50" stroke="#ff0000" stroke-width="2.6" stroke-linecap="butt"/>
<circle cx="322.30" cy="330.50" r="3.6" fill="#ff0000"/>
<text x="340.50" y="336.70" font-size="12" textLength="29.60" lengthAdjust="spacingAndGlyphs"><tspan font-style="italic">Tipe2</tspan></text>
<text x="370.60" y="330.70" font-size="9.5" textLength="43.90" lengthAdjust="spacingAndGlyphs"><tspan font-style="italic"><tspan font-weight="normal" font-style="normal">Δ</tspan>NK/<tspan font-weight="normal" font-style="normal">Δ</tspan>NK</tspan></text>
<line x1="313.90" y1="356.40" x2="330.40" y2="356.40" stroke="#0000ff" stroke-width="1.6" stroke-linecap="butt"/>
<circle cx="322.30" cy="356.40" r="3.6" fill="#0000ff"/>
<text x="340.50" y="362.60" font-size="12" textLength="29.60" lengthAdjust="spacingAndGlyphs"><tspan font-style="italic">Tipe2</tspan></text>
<text x="370.60" y="357.30" font-size="9.5" textLength="35.30" lengthAdjust="spacingAndGlyphs"><tspan font-style="italic">WT/WT</tspan></text>
<line x1="313.90" y1="381.30" x2="330.40" y2="381.30" stroke="#ff0000" stroke-width="1.6" stroke-linecap="butt"/>
<circle cx="322.30" cy="381.30" r="3.6" fill="#ff0000"/>
<text x="340.50" y="387.50" font-size="12" textLength="29.60" lengthAdjust="spacingAndGlyphs"><tspan font-style="italic">Tipe2</tspan></text>
<text x="370.60" y="381.50" font-size="9.5" textLength="43.90" lengthAdjust="spacingAndGlyphs"><tspan font-style="italic"><tspan font-weight="normal" font-style="normal">Δ</tspan>NK/<tspan font-weight="normal" font-style="normal">Δ</tspan>NK</tspan></text>
<line x1="420.00" y1="300.00" x2="420.00" y2="336.00" stroke="#000" stroke-width="1.6" stroke-linecap="butt"/>
<line x1="420.00" y1="352.60" x2="420.00" y2="388.50" stroke="#000" stroke-width="1.6" stroke-linecap="butt"/>
<text x="0.00" y="0.00" font-size="11" textLength="20.00" lengthAdjust="spacingAndGlyphs" transform="translate(425.40,309.90) rotate(90)">N.S.</text>
<text x="424.24" y="375.34" font-size="14">*</text>
<text x="424.24" y="383.24" font-size="14">*</text>
<text x="0.00" y="0.00" font-size="11.5" textLength="30.30" lengthAdjust="spacingAndGlyphs" transform="translate(651.00,333.80) rotate(-90)"><tspan font-weight="normal">Δ</tspan>CD8</text>
<line x1="655.40" y1="300.00" x2="655.40" y2="336.00" stroke="#000" stroke-width="1.6" stroke-linecap="butt"/>
<line x1="660.30" y1="305.70" x2="664.70" y2="305.70" stroke="#0000ff" stroke-width="2.6" stroke-linecap="butt"/>
<line x1="673.50" y1="305.70" x2="674.40" y2="305.70" stroke="#0000ff" stroke-width="2.6" stroke-linecap="butt"/>
<circle cx="668.70" cy="305.70" r="3.6" fill="#0000ff"/>
<text x="686.90" y="311.90" font-size="12" textLength="29.60" lengthAdjust="spacingAndGlyphs"><tspan font-style="italic">Tipe2</tspan></text>
<text x="717.00" y="306.60" font-size="9.5" textLength="35.30" lengthAdjust="spacingAndGlyphs"><tspan font-style="italic">WT/WT</tspan></text>
<line x1="660.30" y1="330.50" x2="664.70" y2="330.50" stroke="#ff0000" stroke-width="2.6" stroke-linecap="butt"/>
<line x1="673.50" y1="330.50" x2="674.40" y2="330.50" stroke="#ff0000" stroke-width="2.6" stroke-linecap="butt"/>
<circle cx="668.70" cy="330.50" r="3.6" fill="#ff0000"/>
<text x="686.90" y="336.70" font-size="12" textLength="29.60" lengthAdjust="spacingAndGlyphs"><tspan font-style="italic">Tipe2</tspan></text>
<text x="717.00" y="330.70" font-size="9.5" textLength="43.90" lengthAdjust="spacingAndGlyphs"><tspan font-style="italic"><tspan font-weight="normal" font-style="normal">Δ</tspan>NK/<tspan font-weight="normal" font-style="normal">Δ</tspan>NK</tspan></text>
<line x1="660.30" y1="356.40" x2="676.80" y2="356.40" stroke="#0000ff" stroke-width="1.6" stroke-linecap="butt"/>
<circle cx="668.70" cy="356.40" r="3.6" fill="#0000ff"/>
<text x="686.90" y="362.60" font-size="12" textLength="29.60" lengthAdjust="spacingAndGlyphs"><tspan font-style="italic">Tipe2</tspan></text>
<text x="717.00" y="357.30" font-size="9.5" textLength="35.30" lengthAdjust="spacingAndGlyphs"><tspan font-style="italic">WT/WT</tspan></text>
<line x1="660.30" y1="381.30" x2="676.80" y2="381.30" stroke="#ff0000" stroke-width="1.6" stroke-linecap="butt"/>
<circle cx="668.70" cy="381.30" r="3.6" fill="#ff0000"/>
<text x="686.90" y="387.50" font-size="12" textLength="29.60" lengthAdjust="spacingAndGlyphs"><tspan font-style="italic">Tipe2</tspan></text>
<text x="717.00" y="381.50" font-size="9.5" textLength="43.90" lengthAdjust="spacingAndGlyphs"><tspan font-style="italic"><tspan font-weight="normal" font-style="normal">Δ</tspan>NK/<tspan font-weight="normal" font-style="normal">Δ</tspan>NK</tspan></text>
<line x1="764.40" y1="300.00" x2="764.40" y2="336.00" stroke="#000" stroke-width="1.6" stroke-linecap="butt"/>
<line x1="764.40" y1="352.60" x2="764.40" y2="388.50" stroke="#000" stroke-width="1.6" stroke-linecap="butt"/>
<text x="0.00" y="0.00" font-size="11" textLength="20.00" lengthAdjust="spacingAndGlyphs" transform="translate(770.80,309.90) rotate(90)">N.S.</text>
<text x="769.14" y="375.34" font-size="14">*</text>
<text x="769.14" y="383.24" font-size="14">*</text>
<text x="833.70" y="244.80" font-size="30">E</text>
<text x="915.50" y="246.30" font-size="14.5" textLength="80.20" lengthAdjust="spacingAndGlyphs">CD8<tspan font-size="10" dy="-6">+</tspan><tspan dy="6"> cells</tspan></text>
<rect x="930.20" y="318.30" width="20.60" height="24.40" fill="#0000ff"/>
<line x1="940.50" y1="318.30" x2="940.50" y2="312.70" stroke="#0000ff" stroke-width="2.2" stroke-linecap="butt"/>
<line x1="935.10" y1="312.70" x2="945.80" y2="312.70" stroke="#0000ff" stroke-width="2.4" stroke-linecap="butt"/>
<rect x="961.00" y="279.40" width="20.30" height="63.30" fill="#ff0000"/>
<line x1="971.15" y1="279.40" x2="971.15" y2="272.00" stroke="#ff0000" stroke-width="2.2" stroke-linecap="butt"/>
<line x1="966.30" y1="272.00" x2="976.20" y2="272.00" stroke="#ff0000" stroke-width="2.4" stroke-linecap="butt"/>
<line x1="914.90" y1="343.50" x2="914.90" y2="264.40" stroke="#000" stroke-width="1.6" stroke-linecap="butt"/>
<line x1="910.60" y1="342.70" x2="914.90" y2="342.70" stroke="#000" stroke-width="1.6" stroke-linecap="butt"/>
<text x="900.25" y="347.90" font-size="12.7" textLength="7.35" lengthAdjust="spacingAndGlyphs">0</text>
<line x1="910.60" y1="327.04" x2="914.90" y2="327.04" stroke="#000" stroke-width="1.6" stroke-linecap="butt"/>
<text x="892.90" y="332.24" font-size="12.7" textLength="14.70" lengthAdjust="spacingAndGlyphs">10</text>
<line x1="910.60" y1="311.38" x2="914.90" y2="311.38" stroke="#000" stroke-width="1.6" stroke-linecap="butt"/>
<text x="892.90" y="316.58" font-size="12.7" textLength="14.70" lengthAdjust="spacingAndGlyphs">20</text>
<line x1="910.60" y1="295.72" x2="914.90" y2="295.72" stroke="#000" stroke-width="1.6" stroke-linecap="butt"/>
<text x="892.90" y="300.92" font-size="12.7" textLength="14.70" lengthAdjust="spacingAndGlyphs">30</text>
<line x1="910.60" y1="280.06" x2="914.90" y2="280.06" stroke="#000" stroke-width="1.6" stroke-linecap="butt"/>
<text x="892.90" y="285.26" font-size="12.7" textLength="14.70" lengthAdjust="spacingAndGlyphs">40</text>
<line x1="910.60" y1="264.40" x2="914.90" y2="264.40" stroke="#000" stroke-width="1.6" stroke-linecap="butt"/>
<text x="892.90" y="269.60" font-size="12.7" textLength="14.70" lengthAdjust="spacingAndGlyphs">50</text>
<line x1="914.10" y1="342.70" x2="997.00" y2="342.70" stroke="#000" stroke-width="1.6" stroke-linecap="butt"/>
<line x1="936.30" y1="268.00" x2="974.40" y2="268.00" stroke="#000" stroke-width="1.6" stroke-linecap="butt"/>
<text x="948.70" y="268.26" font-size="14" textLength="13.60" lengthAdjust="spacingAndGlyphs">**</text>
<text x="0.00" y="0.00" font-size="17" textLength="68.60" lengthAdjust="spacingAndGlyphs" transform="translate(883.10,336.10) rotate(-90)">% T cells</text>
<text x="1084.60" y="248.40" font-size="14.5" textLength="96.60" lengthAdjust="spacingAndGlyphs">CD8<tspan font-size="10" dy="-6">+</tspan><tspan dy="6"> T cells</tspan></text>
<rect x="1107.40" y="322.60" width="20.40" height="20.50" fill="#0000ff"/>
<line x1="1117.60" y1="322.60" x2="1117.60" y2="318.10" stroke="#0000ff" stroke-width="2.2" stroke-linecap="butt"/>
<line x1="1112.00" y1="318.10" x2="1122.70" y2="318.10" stroke="#0000ff" stroke-width="2.4" stroke-linecap="butt"/>
<rect x="1138.00" y="296.00" width="20.70" height="47.10" fill="#ff0000"/>
<line x1="1148.35" y1="296.00" x2="1148.35" y2="287.00" stroke="#ff0000" stroke-width="2.2" stroke-linecap="butt"/>
<line x1="1142.90" y1="287.00" x2="1153.30" y2="287.00" stroke="#ff0000" stroke-width="2.4" stroke-linecap="butt"/>
<line x1="1092.10" y1="343.90" x2="1092.10" y2="266.70" stroke="#000" stroke-width="1.6" stroke-linecap="butt"/>
<line x1="1087.80" y1="343.10" x2="1092.10" y2="343.10" stroke="#000" stroke-width="1.6" stroke-linecap="butt"/>
<text x="1077.20" y="348.10" font-size="12.7" textLength="7.10" lengthAdjust="spacingAndGlyphs">0</text>
<line x1="1087.80" y1="324.00" x2="1092.10" y2="324.00" stroke="#000" stroke-width="1.6" stroke-linecap="butt"/>
<text x="1077.20" y="329.00" font-size="12.7" textLength="7.10" lengthAdjust="spacingAndGlyphs">1</text>
<line x1="1087.80" y1="304.90" x2="1092.10" y2="304.90" stroke="#000" stroke-width="1.6" stroke-linecap="butt"/>
<text x="1077.20" y="309.90" font-size="12.7" textLength="7.10" lengthAdjust="spacingAndGlyphs">2</text>
<line x1="1087.80" y1="285.80" x2="1092.10" y2="285.80" stroke="#000" stroke-width="1.6" stroke-linecap="butt"/>
<text x="1077.20" y="290.80" font-size="12.7" textLength="7.10" lengthAdjust="spacingAndGlyphs">3</text>
<line x1="1087.80" y1="266.70" x2="1092.10" y2="266.70" stroke="#000" stroke-width="1.6" stroke-linecap="butt"/>
<text x="1077.20" y="271.70" font-size="12.7" textLength="7.10" lengthAdjust="spacingAndGlyphs">4</text>
<line x1="1091.30" y1="343.10" x2="1174.00" y2="343.10" stroke="#000" stroke-width="1.6" stroke-linecap="butt"/>
<line x1="1113.40" y1="281.60" x2="1151.50" y2="281.60" stroke="#000" stroke-width="1.6" stroke-linecap="butt"/>
<text x="1128.90" y="281.26" font-size="14" textLength="6.50" lengthAdjust="spacingAndGlyphs">*</text>
<text x="0.00" y="0.00" font-size="16" textLength="120.20" lengthAdjust="spacingAndGlyphs" transform="translate(1067.50,363.00) rotate(-90)">Numbers (x10<tspan font-size="11" dy="-6">5</tspan><tspan dy="6">)</tspan></text>
<rect x="1185.60" y="264.40" width="16.30" height="7.90" fill="#0000ff"/>
<rect x="1185.60" y="285.20" width="16.30" height="9.20" fill="#ff0000"/>
<text x="1212.40" y="274.50" font-size="12.7" textLength="29.20" lengthAdjust="spacingAndGlyphs"><tspan font-style="italic">Tipe2</tspan></text>
<text x="1242.60" y="268.80" font-size="9.2" textLength="36.20" lengthAdjust="spacingAndGlyphs"><tspan font-style="italic">WT/WT</tspan></text>
<text x="1212.40" y="295.60" font-size="12.7" textLength="29.20" lengthAdjust="spacingAndGlyphs"><tspan font-style="italic">Tipe2</tspan></text>
<text x="1243.00" y="289.90" font-size="9.2" textLength="44.30" lengthAdjust="spacingAndGlyphs"><tspan font-style="italic"><tspan font-weight="normal" font-style="normal">Δ</tspan>NK/<tspan font-weight="normal" font-style="normal">Δ</tspan>NK</tspan></text>
<text x="833.50" y="395.10" font-size="30">F</text>
<text x="917.60" y="391.10" font-size="14.5" textLength="76.90" lengthAdjust="spacingAndGlyphs">IFN-<tspan font-weight="normal">γ</tspan><tspan font-size="10" dy="-6">+</tspan><tspan dy="6"> cells</tspan></text>
<rect x="930.40" y="457.50" width="20.10" height="34.50" fill="#0000ff"/>
<line x1="940.45" y1="457.50" x2="940.45" y2="451.00" stroke="#0000ff" stroke-width="2.2" stroke-linecap="butt"/>
<line x1="935.30" y1="451.00" x2="945.60" y2="451.00" stroke="#0000ff" stroke-width="2.4" stroke-linecap="butt"/>
<rect x="961.00" y="428.60" width="20.30" height="63.40" fill="#ff0000"/>
<line x1="971.15" y1="428.60" x2="971.15" y2="426.00" stroke="#ff0000" stroke-width="2.2" stroke-linecap="butt"/>
<line x1="966.00" y1="426.00" x2="976.30" y2="426.00" stroke="#ff0000" stroke-width="2.4" stroke-linecap="butt"/>
<line x1="914.70" y1="492.80" x2="914.70" y2="416.20" stroke="#000" stroke-width="1.6" stroke-linecap="butt"/>
<line x1="910.40" y1="492.00" x2="914.70" y2="492.00" stroke="#000" stroke-width="1.6" stroke-linecap="butt"/>
<text x="901.25" y="496.60" font-size="12.5" textLength="6.85" lengthAdjust="spacingAndGlyphs">0</text>
<line x1="910.40" y1="473.05" x2="914.70" y2="473.05" stroke="#000" stroke-width="1.6" stroke-linecap="butt"/>
<text x="894.40" y="477.65" font-size="12.5" textLength="13.70" lengthAdjust="spacingAndGlyphs">20</text>
<line x1="910.40" y1="454.10" x2="914.70" y2="454.10" stroke="#000" stroke-width="1.6" stroke-linecap="butt"/>
<text x="894.40" y="458.70" font-size="12.5" textLength="13.70" lengthAdjust="spacingAndGlyphs">40</text>
<line x1="910.40" y1="435.15" x2="914.70" y2="435.15" stroke="#000" stroke-width="1.6" stroke-linecap="butt"/>
<text x="894.40" y="439.75" font-size="12.5" textLength="13.70" lengthAdjust="spacingAndGlyphs">60</text>
<line x1="910.40" y1="416.20" x2="914.70" y2="416.20" stroke="#000" stroke-width="1.6" stroke-linecap="butt"/>
<text x="894.40" y="420.80" font-size="12.5" textLength="13.70" lengthAdjust="spacingAndGlyphs">80</text>
<line x1="913.90" y1="492.00" x2="997.40" y2="492.00" stroke="#000" stroke-width="1.6" stroke-linecap="butt"/>
<line x1="936.30" y1="420.10" x2="974.20" y2="420.10" stroke="#000" stroke-width="1.6" stroke-linecap="butt"/>
<text x="952.60" y="420.71" font-size="13.5" textLength="5.40" lengthAdjust="spacingAndGlyphs">*</text>
<text x="0.00" y="0.00" font-size="15.5" textLength="104.90" lengthAdjust="spacingAndGlyphs" transform="translate(867.00,506.30) rotate(-90)">% CD8<tspan font-size="11" dy="-6">+</tspan><tspan dy="6"> T cells</tspan></text>
<text x="0.00" y="0.00" font-size="15.5" textLength="58.20" lengthAdjust="spacingAndGlyphs" transform="translate(884.10,482.20) rotate(-90)">in tumor</text>
<text x="1092.50" y="391.10" font-size="14.5" textLength="81.20" lengthAdjust="spacingAndGlyphs">TNF<tspan font-weight="normal">α</tspan><tspan font-size="10" dy="-6">+</tspan><tspan dy="6"> cells</tspan></text>
<rect x="1107.10" y="476.30" width="20.70" height="15.70" fill="#0000ff"/>
<line x1="1117.45" y1="476.30" x2="1117.45" y2="466.40" stroke="#0000ff" stroke-width="2.2" stroke-linecap="butt"/>
<line x1="1112.00" y1="466.40" x2="1122.50" y2="466.40" stroke="#0000ff" stroke-width="2.4" stroke-linecap="butt"/>
<rect x="1137.80" y="434.30" width="20.70" height="57.70" fill="#ff0000"/>
<line x1="1148.15" y1="434.30" x2="1148.15" y2="422.10" stroke="#ff0000" stroke-width="2.2" stroke-linecap="butt"/>
<line x1="1142.70" y1="422.10" x2="1153.30" y2="422.10" stroke="#ff0000" stroke-width="2.4" stroke-linecap="butt"/>
<line x1="1091.90" y1="492.80" x2="1091.90" y2="416.60" stroke="#000" stroke-width="1.6" stroke-linecap="butt"/>
<line x1="1087.60" y1="492.00" x2="1091.90" y2="492.00" stroke="#000" stroke-width="1.6" stroke-linecap="butt"/>
<text x="1078.90" y="496.60" font-size="12.5" textLength="6.90" lengthAdjust="spacingAndGlyphs">0</text>
<line x1="1087.60" y1="473.15" x2="1091.90" y2="473.15" stroke="#000" stroke-width="1.6" stroke-linecap="butt"/>
<text x="1072.00" y="477.75" font-size="12.5" textLength="13.80" lengthAdjust="spacingAndGlyphs">10</text>
<line x1="1087.60" y1="454.30" x2="1091.90" y2="454.30" stroke="#000" stroke-width="1.6" stroke-linecap="butt"/>
<text x="1072.00" y="458.90" font-size="12.5" textLength="13.80" lengthAdjust="spacingAndGlyphs">20</text>
<line x1="1087.60" y1="435.45" x2="1091.90" y2="435.45" stroke="#000" stroke-width="1.6" stroke-linecap="butt"/>
<text x="1072.00" y="440.05" font-size="12.5" textLength="13.80" lengthAdjust="spacingAndGlyphs">30</text>
<line x1="1087.60" y1="416.60" x2="1091.90" y2="416.60" stroke="#000" stroke-width="1.6" stroke-linecap="butt"/>
<text x="1072.00" y="421.20" font-size="12.5" textLength="13.80" lengthAdjust="spacingAndGlyphs">40</text>
<line x1="1091.10" y1="492.00" x2="1174.10" y2="492.00" stroke="#000" stroke-width="1.6" stroke-linecap="butt"/>
<line x1="1113.20" y1="417.10" x2="1151.60" y2="417.10" stroke="#000" stroke-width="1.6" stroke-linecap="butt"/>
<text x="1129.00" y="417.12" font-size="13.5" textLength="6.10" lengthAdjust="spacingAndGlyphs">*</text>
<text x="0.00" y="0.00" font-size="15.5" textLength="104.90" lengthAdjust="spacingAndGlyphs" transform="translate(1044.00,506.30) rotate(-90)">% CD8<tspan font-size="11" dy="-6">+</tspan><tspan dy="6"> T cells</tspan></text>
<text x="0.00" y="0.00" font-size="15.5" textLength="58.20" lengthAdjust="spacingAndGlyphs" transform="translate(1061.40,482.20) rotate(-90)">in tumor</text>
<text x="36.60" y="482.60" font-size="30">G</text>
<text x="125.60" y="486.00" font-size="14.5" textLength="81.40" lengthAdjust="spacingAndGlyphs">CD69<tspan font-size="10" dy="-6">+</tspan><tspan dy="6"> cells</tspan></text>
<rect x="140.70" y="552.50" width="20.30" height="33.90" fill="#0000ff"/>
<line x1="150.85" y1="552.50" x2="150.85" y2="550.00" stroke="#0000ff" stroke-width="2.2" stroke-linecap="butt"/>
<line x1="145.60" y1="550.00" x2="156.10" y2="550.00" stroke="#0000ff" stroke-width="2.4" stroke-linecap="butt"/>
<rect x="171.50" y="532.40" width="20.50" height="54.00" fill="#ff0000"/>
<line x1="181.75" y1="532.40" x2="181.75" y2="528.30" stroke="#ff0000" stroke-width="2.2" stroke-linecap="butt"/>
<line x1="176.50" y1="528.30" x2="187.00" y2="528.30" stroke="#ff0000" stroke-width="2.4" stroke-linecap="butt"/>
<line x1="125.60" y1="587.20" x2="125.60" y2="510.80" stroke="#000" stroke-width="1.6" stroke-linecap="butt"/>
<line x1="120.90" y1="586.40" x2="125.60" y2="586.40" stroke="#000" stroke-width="1.6" stroke-linecap="butt"/>
<text x="112.70" y="591.00" font-size="12.5" textLength="6.80" lengthAdjust="spacingAndGlyphs">0</text>
<line x1="120.90" y1="567.50" x2="125.60" y2="567.50" stroke="#000" stroke-width="1.6" stroke-linecap="butt"/>
<text x="112.70" y="572.10" font-size="12.5" textLength="6.80" lengthAdjust="spacingAndGlyphs">5</text>
<line x1="120.90" y1="548.60" x2="125.60" y2="548.60" stroke="#000" stroke-width="1.6" stroke-linecap="butt"/>
<text x="105.90" y="553.20" font-size="12.5" textLength="13.60" lengthAdjust="spacingAndGlyphs">10</text>
<line x1="120.90" y1="529.70" x2="125.60" y2="529.70" stroke="#000" stroke-width="1.6" stroke-linecap="butt"/>
<text x="105.90" y="534.30" font-size="12.5" textLength="13.60" lengthAdjust="spacingAndGlyphs">15</text>
<line x1="120.90" y1="510.80" x2="125.60" y2="510.80" stroke="#000" stroke-width="1.6" stroke-linecap="butt"/>
<text x="105.90" y="515.40" font-size="12.5" textLength="13.60" lengthAdjust="spacingAndGlyphs">20</text>
<line x1="124.80" y1="586.40" x2="208.00" y2="586.40" stroke="#000" stroke-width="1.6" stroke-linecap="butt"/>
<line x1="147.20" y1="523.00" x2="185.10" y2="523.00" stroke="#000" stroke-width="1.6" stroke-linecap="butt"/>
<text x="158.80" y="522.82" font-size="13.5" textLength="12.90" lengthAdjust="spacingAndGlyphs">**</text>
<text x="0.00" y="0.00" font-size="15.5" textLength="104.90" lengthAdjust="spacingAndGlyphs" transform="translate(77.70,601.30) rotate(-90)">% CD8<tspan font-size="11" dy="-6">+</tspan><tspan dy="6"> T cells</tspan></text>
<text x="0.00" y="0.00" font-size="15.5" textLength="33.50" lengthAdjust="spacingAndGlyphs" transform="translate(95.00,565.30) rotate(-90)">in LN</text>
<text x="295.00" y="483.60" font-size="14.5" textLength="76.80" lengthAdjust="spacingAndGlyphs">IFN-<tspan font-weight="normal">γ</tspan><tspan font-size="10" dy="-6">+</tspan><tspan dy="6"> cells</tspan></text>
<rect x="307.40" y="542.30" width="20.50" height="44.10" fill="#0000ff"/>
<line x1="317.65" y1="542.30" x2="317.65" y2="536.80" stroke="#0000ff" stroke-width="2.2" stroke-linecap="butt"/>
<line x1="312.30" y1="536.80" x2="323.00" y2="536.80" stroke="#0000ff" stroke-width="2.4" stroke-linecap="butt"/>
<rect x="338.30" y="517.70" width="20.70" height="68.70" fill="#ff0000"/>
<line x1="348.65" y1="517.70" x2="348.65" y2="511.20" stroke="#ff0000" stroke-width="2.2" stroke-linecap="butt"/>
<line x1="343.30" y1="511.20" x2="354.00" y2="511.20" stroke="#ff0000" stroke-width="2.4" stroke-linecap="butt"/>
<line x1="292.40" y1="587.20" x2="292.40" y2="509.20" stroke="#000" stroke-width="1.6" stroke-linecap="butt"/>
<line x1="287.70" y1="586.40" x2="292.40" y2="586.40" stroke="#000" stroke-width="1.6" stroke-linecap="butt"/>
<text x="278.00" y="591.00" font-size="12.5" textLength="6.80" lengthAdjust="spacingAndGlyphs">0</text>
<line x1="287.70" y1="570.96" x2="292.40" y2="570.96" stroke="#000" stroke-width="1.6" stroke-linecap="butt"/>
<text x="278.00" y="575.56" font-size="12.5" textLength="6.80" lengthAdjust="spacingAndGlyphs">5</text>
<line x1="287.70" y1="555.52" x2="292.40" y2="555.52" stroke="#000" stroke-width="1.6" stroke-linecap="butt"/>
<text x="271.20" y="560.12" font-size="12.5" textLength="13.60" lengthAdjust="spacingAndGlyphs">10</text>
<line x1="287.70" y1="540.08" x2="292.40" y2="540.08" stroke="#000" stroke-width="1.6" stroke-linecap="butt"/>
<text x="271.20" y="544.68" font-size="12.5" textLength="13.60" lengthAdjust="spacingAndGlyphs">15</text>
<line x1="287.70" y1="524.64" x2="292.40" y2="524.64" stroke="#000" stroke-width="1.6" stroke-linecap="butt"/>
<text x="271.20" y="529.24" font-size="12.5" textLength="13.60" lengthAdjust="spacingAndGlyphs">20</text>
<line x1="287.70" y1="509.20" x2="292.40" y2="509.20" stroke="#000" stroke-width="1.6" stroke-linecap="butt"/>
<text x="271.20" y="513.80" font-size="12.5" textLength="13.60" lengthAdjust="spacingAndGlyphs">25</text>
<line x1="291.60" y1="586.40" x2="374.80" y2="586.40" stroke="#000" stroke-width="1.6" stroke-linecap="butt"/>
<line x1="314.00" y1="506.20" x2="351.70" y2="506.20" stroke="#000" stroke-width="1.6" stroke-linecap="butt"/>
<text x="330.00" y="506.51" font-size="13.5" textLength="6.10" lengthAdjust="spacingAndGlyphs">*</text>
<text x="0.00" y="0.00" font-size="15.5" textLength="103.90" lengthAdjust="spacingAndGlyphs" transform="translate(244.60,600.30) rotate(-90)">% CD8<tspan font-size="11" dy="-6">+</tspan><tspan dy="6"> T cells</tspan></text>
<text x="0.00" y="0.00" font-size="15.5" textLength="33.50" lengthAdjust="spacingAndGlyphs" transform="translate(261.50,564.40) rotate(-90)">in LN</text>
<text x="125.60" y="625.80" font-size="14.5" textLength="82.10" lengthAdjust="spacingAndGlyphs">TNF<tspan font-weight="normal">α</tspan><tspan font-size="10" dy="-6">+</tspan><tspan dy="6"> cells</tspan></text>
<rect x="141.00" y="705.10" width="20.60" height="21.70" fill="#0000ff"/>
<line x1="151.30" y1="705.10" x2="151.30" y2="701.10" stroke="#0000ff" stroke-width="2.2" stroke-linecap="butt"/>
<line x1="146.00" y1="701.10" x2="156.60" y2="701.10" stroke="#0000ff" stroke-width="2.4" stroke-linecap="butt"/>
<rect x="171.70" y="673.00" width="20.60" height="53.80" fill="#ff0000"/>
<line x1="182.00" y1="673.00" x2="182.00" y2="664.50" stroke="#ff0000" stroke-width="2.2" stroke-linecap="butt"/>
<line x1="176.70" y1="664.50" x2="187.30" y2="664.50" stroke="#ff0000" stroke-width="2.4" stroke-linecap="butt"/>
<line x1="125.50" y1="727.60" x2="125.50" y2="651.20" stroke="#000" stroke-width="1.6" stroke-linecap="butt"/>
<line x1="120.80" y1="726.80" x2="125.50" y2="726.80" stroke="#000" stroke-width="1.6" stroke-linecap="butt"/>
<text x="112.30" y="731.40" font-size="12.5" textLength="6.60" lengthAdjust="spacingAndGlyphs">0</text>
<line x1="120.80" y1="707.90" x2="125.50" y2="707.90" stroke="#000" stroke-width="1.6" stroke-linecap="butt"/>
<text x="112.30" y="712.50" font-size="12.5" textLength="6.60" lengthAdjust="spacingAndGlyphs">5</text>
<line x1="120.80" y1="689.00" x2="125.50" y2="689.00" stroke="#000" stroke-width="1.6" stroke-linecap="butt"/>
<text x="105.70" y="693.60" font-size="12.5" textLength="13.20" lengthAdjust="spacingAndGlyphs">10</text>
<line x1="120.80" y1="670.10" x2="125.50" y2="670.10" stroke="#000" stroke-width="1.6" stroke-linecap="butt"/>
<text x="105.70" y="674.70" font-size="12.5" textLength="13.20" lengthAdjust="spacingAndGlyphs">15</text>
<line x1="120.80" y1="651.20" x2="125.50" y2="651.20" stroke="#000" stroke-width="1.6" stroke-linecap="butt"/>
<text x="105.70" y="655.80" font-size="12.5" textLength="13.20" lengthAdjust="spacingAndGlyphs">20</text>
<line x1="124.70" y1="726.80" x2="207.70" y2="726.80" stroke="#000" stroke-width="1.6" stroke-linecap="butt"/>
<line x1="147.40" y1="659.70" x2="185.50" y2="659.70" stroke="#000" stroke-width="1.6" stroke-linecap="butt"/>
<text x="158.20" y="659.12" font-size="13.5" textLength="13.30" lengthAdjust="spacingAndGlyphs">**</text>
<text x="0.00" y="0.00" font-size="15.5" textLength="102.80" lengthAdjust="spacingAndGlyphs" transform="translate(77.80,739.60) rotate(-90)">% CD8<tspan font-size="11" dy="-6">+</tspan><tspan dy="6"> T cells</tspan></text>
<text x="0.00" y="0.00" font-size="15.5" textLength="34.80" lengthAdjust="spacingAndGlyphs" transform="translate(94.80,705.60) rotate(-90)">in LN</text>
<rect x="217.20" y="655.30" width="16.80" height="8.50" fill="#0000ff"/>
<rect x="217.20" y="680.00" width="16.80" height="9.80" fill="#ff0000"/>
<text x="244.30" y="665.40" font-size="12.7" textLength="29.90" lengthAdjust="spacingAndGlyphs"><tspan font-style="italic">Tipe2</tspan></text>
<text x="274.90" y="659.70" font-size="9.2" textLength="34.90" lengthAdjust="spacingAndGlyphs"><tspan font-style="italic">WT/WT</tspan></text>
<text x="244.30" y="690.30" font-size="12.7" textLength="29.90" lengthAdjust="spacingAndGlyphs"><tspan font-style="italic">Tipe2</tspan></text>
<text x="274.90" y="684.60" font-size="9.2" textLength="43.70" lengthAdjust="spacingAndGlyphs"><tspan font-style="italic"><tspan font-weight="normal" font-style="normal">Δ</tspan>NK/<tspan font-weight="normal" font-style="normal">Δ</tspan>NK</tspan></text>
<text x="406.70" y="541.90" font-size="30">H</text>
<g transform="translate(568.00,533.50)"><g>
<path d="M42.0,18.6 C47.5,19.6 53.5,19.2 57.6,17.2" fill="none" stroke="#b4b4b4" stroke-width="1.9"/>
<path d="M41.8,19.0 C48,19.6 55,19.0 58.6,16.4 C61.2,14.2 60.2,10.6 56.2,8.2 C52.2,5.8 46.4,4.2 41.2,3.5" fill="none" stroke="#6a6a6a" stroke-width="0.95"/>
<path d="M2.7,25.4 C2.8,22.0 3.4,18.2 4.6,15.6 C5.6,13.2 7.6,10.4 11.2,8.4 C13.5,6.9 15.5,5.9 17.8,5.3 C22.0,4.3 26.8,4.4 30.1,5.3 C35.0,6.7 39.6,10.4 41.6,14.4 C42.7,17.4 41.7,21.0 38.7,22.6 C36.2,23.8 33.4,23.9 31.1,23.9 L20.7,24.4 L7.6,24.7 C5.8,25.0 4.2,25.4 2.7,25.4 Z" fill="#1f1f1f"/>
<ellipse cx="4.7" cy="8.4" rx="3.1" ry="5.2" transform="rotate(-12 4.7 8.4)" fill="#f4c9d2" stroke="#8f8f8f" stroke-width="0.8"/>
<ellipse cx="13.6" cy="7.4" rx="5.1" ry="7.0" transform="rotate(6 13.6 7.4)" fill="#f7f7f7" stroke="#8a8a8a" stroke-width="0.85"/>
<ellipse cx="12.6" cy="10.4" rx="1.9" ry="4.1" transform="rotate(8 12.6 10.4)" fill="#f0c3cc"/>
<ellipse cx="8.6" cy="19.2" rx="1.2" ry="1.8" transform="rotate(25 8.6 19.2)" fill="#3a3a3a" stroke="#8c8c8c" stroke-width="0.6"/>
<g stroke="#3a3a3a" stroke-width="0.55" fill="none">
<path d="M-1.6,23.5 L4.1,25.4 L10.7,29.7"/><path d="M1.3,27.3 L4.1,25.4 L11.2,24.4"/>
</g>
<g stroke="#d8d8d8" stroke-width="0.5" fill="none"><path d="M5.5,23.6 L10.5,22.6"/><path d="M5,26.2 L9.8,27.6"/></g>
<circle cx="4.1" cy="25.3" r="1.15" fill="#000"/>
</g></g>
<g transform="translate(419.00,606.40)"><g>
<path d="M42.0,18.6 C47.5,19.6 53.5,19.2 57.6,17.2" fill="none" stroke="#b4b4b4" stroke-width="1.9"/>
<path d="M41.8,19.0 C48,19.6 55,19.0 58.6,16.4 C61.2,14.2 60.2,10.6 56.2,8.2 C52.2,5.8 46.4,4.2 41.2,3.5" fill="none" stroke="#6a6a6a" stroke-width="0.95"/>
<path d="M2.7,25.4 C2.8,22.0 3.4,18.2 4.6,15.6 C5.6,13.2 7.6,10.4 11.2,8.4 C13.5,6.9 15.5,5.9 17.8,5.3 C22.0,4.3 26.8,4.4 30.1,5.3 C35.0,6.7 39.6,10.4 41.6,14.4 C42.7,17.4 41.7,21.0 38.7,22.6 C36.2,23.8 33.4,23.9 31.1,23.9 L20.7,24.4 L7.6,24.7 C5.8,25.0 4.2,25.4 2.7,25.4 Z" fill="#1f1f1f"/>
<ellipse cx="4.7" cy="8.4" rx="3.1" ry="5.2" transform="rotate(-12 4.7 8.4)" fill="#f4c9d2" stroke="#8f8f8f" stroke-width="0.8"/>
<ellipse cx="13.6" cy="7.4" rx="5.1" ry="7.0" transform="rotate(6 13.6 7.4)" fill="#f7f7f7" stroke="#8a8a8a" stroke-width="0.85"/>
<ellipse cx="12.6" cy="10.4" rx="1.9" ry="4.1" transform="rotate(8 12.6 10.4)" fill="#f0c3cc"/>
<ellipse cx="8.6" cy="19.2" rx="1.2" ry="1.8" transform="rotate(25 8.6 19.2)" fill="#3a3a3a" stroke="#8c8c8c" stroke-width="0.6"/>
<g stroke="#3a3a3a" stroke-width="0.55" fill="none">
<path d="M-1.6,23.5 L4.1,25.4 L10.7,29.7"/><path d="M1.3,27.3 L4.1,25.4 L11.2,24.4"/>
</g>
<g stroke="#d8d8d8" stroke-width="0.5" fill="none"><path d="M5.5,23.6 L10.5,22.6"/><path d="M5,26.2 L9.8,27.6"/></g>
<circle cx="4.1" cy="25.3" r="1.15" fill="#000"/>
</g></g>
<g transform="translate(568.00,659.60)"><g>
<path d="M42.0,18.6 C47.5,19.6 53.5,19.2 57.6,17.2" fill="none" stroke="#b4b4b4" stroke-width="1.9"/>
<path d="M41.8,19.0 C48,19.6 55,19.0 58.6,16.4 C61.2,14.2 60.2,10.6 56.2,8.2 C52.2,5.8 46.4,4.2 41.2,3.5" fill="none" stroke="#6a6a6a" stroke-width="0.95"/>
<path d="M2.7,25.4 C2.8,22.0 3.4,18.2 4.6,15.6 C5.6,13.2 7.6,10.4 11.2,8.4 C13.5,6.9 15.5,5.9 17.8,5.3 C22.0,4.3 26.8,4.4 30.1,5.3 C35.0,6.7 39.6,10.4 41.6,14.4 C42.7,17.4 41.7,21.0 38.7,22.6 C36.2,23.8 33.4,23.9 31.1,23.9 L20.7,24.4 L7.6,24.7 C5.8,25.0 4.2,25.4 2.7,25.4 Z" fill="#1f1f1f"/>
<ellipse cx="4.7" cy="8.4" rx="3.1" ry="5.2" transform="rotate(-12 4.7 8.4)" fill="#f4c9d2" stroke="#8f8f8f" stroke-width="0.8"/>
<ellipse cx="13.6" cy="7.4" rx="5.1" ry="7.0" transform="rotate(6 13.6 7.4)" fill="#f7f7f7" stroke="#8a8a8a" stroke-width="0.85"/>
<ellipse cx="12.6" cy="10.4" rx="1.9" ry="4.1" transform="rotate(8 12.6 10.4)" fill="#f0c3cc"/>
<ellipse cx="8.6" cy="19.2" rx="1.2" ry="1.8" transform="rotate(25 8.6 19.2)" fill="#3a3a3a" stroke="#8c8c8c" stroke-width="0.6"/>
<g stroke="#3a3a3a" stroke-width="0.55" fill="none">
<path d="M-1.6,23.5 L4.1,25.4 L10.7,29.7"/><path d="M1.3,27.3 L4.1,25.4 L11.2,24.4"/>
</g>
<g stroke="#d8d8d8" stroke-width="0.5" fill="none"><path d="M5.5,23.6 L10.5,22.6"/><path d="M5,26.2 L9.8,27.6"/></g>
<circle cx="4.1" cy="25.3" r="1.15" fill="#000"/>
</g></g>
<line x1="637.80" y1="552.80" x2="660.20" y2="552.80" stroke="#1a1a1a" stroke-width="1.1" stroke-linecap="butt"/>
<polygon points="666.20,552.80 659.70,555.00 659.70,550.60" fill="#1a1a1a"/>
<line x1="637.80" y1="677.00" x2="660.20" y2="677.00" stroke="#1a1a1a" stroke-width="1.1" stroke-linecap="butt"/>
<polygon points="666.20,677.00 659.70,679.20 659.70,674.80" fill="#1a1a1a"/>
<circle cx="682.00" cy="538.10" r="3.0" fill="#0a0aff"/>
<circle cx="695.80" cy="540.80" r="3.0" fill="#0a0aff"/>
<circle cx="688.30" cy="543.10" r="3.0" fill="#0a0aff"/>
<circle cx="680.70" cy="546.40" r="3.0" fill="#0a0aff"/>
<circle cx="695.50" cy="549.00" r="3.0" fill="#0a0aff"/>
<circle cx="687.60" cy="551.00" r="3.0" fill="#0a0aff"/>
<circle cx="682.00" cy="663.90" r="3.0" fill="#ee1133"/>
<circle cx="695.80" cy="666.60" r="3.0" fill="#ee1133"/>
<circle cx="688.30" cy="668.90" r="3.0" fill="#ee1133"/>
<circle cx="680.70" cy="672.20" r="3.0" fill="#ee1133"/>
<circle cx="695.50" cy="674.80" r="3.0" fill="#ee1133"/>
<circle cx="687.60" cy="676.80" r="3.0" fill="#ee1133"/>
<text x="671.20" y="567.00" font-size="12" font-weight="normal" textLength="32.50" lengthAdjust="spacingAndGlyphs">spNK</text>
<text x="671.20" y="692.60" font-size="12" font-weight="normal" textLength="32.50" lengthAdjust="spacingAndGlyphs">spNK</text>
<text x="550.30" y="576.20" font-size="12" font-weight="normal" textLength="89.10" lengthAdjust="spacingAndGlyphs"><tspan font-style="italic">Tipe2</tspan><tspan font-size="8" dy="-5">WT/WT</tspan><tspan dy="5"> mice</tspan></text>
<text x="572.40" y="589.40" font-size="12" font-weight="normal" textLength="44.20" lengthAdjust="spacingAndGlyphs">(Donor)</text>
<text x="551.70" y="706.40" font-size="12" font-weight="normal" textLength="95.20" lengthAdjust="spacingAndGlyphs"><tspan font-style="italic">Tipe2</tspan><tspan font-size="8" dy="-5">ΔNK/ΔNK</tspan><tspan dy="5"> mice</tspan></text>
<text x="572.40" y="719.70" font-size="12" font-weight="normal" textLength="44.20" lengthAdjust="spacingAndGlyphs">(Donor)</text>
<line x1="713.60" y1="552.30" x2="735.00" y2="552.30" stroke="#1a1a1a" stroke-width="1.1" stroke-linecap="butt"/>
<polygon points="741.00,552.30 734.50,554.50 734.50,550.10" fill="#1a1a1a"/>
<line x1="715.50" y1="678.20" x2="737.00" y2="678.20" stroke="#1a1a1a" stroke-width="1.1" stroke-linecap="butt"/>
<polygon points="743.00,678.20 736.50,680.40 736.50,676.00" fill="#1a1a1a"/>
<text x="750.40" y="552.80" font-size="12" font-weight="normal" textLength="37.30" lengthAdjust="spacingAndGlyphs">in vitro</text>
<text x="738.30" y="566.80" font-size="12" font-weight="normal" textLength="63.90" lengthAdjust="spacingAndGlyphs">stimulation</text>
<text x="752.30" y="677.60" font-size="12" font-weight="normal" textLength="37.50" lengthAdjust="spacingAndGlyphs">in vitro</text>
<text x="740.40" y="691.30" font-size="12" font-weight="normal" textLength="63.60" lengthAdjust="spacingAndGlyphs">stimulation</text>
<line x1="809.30" y1="573.10" x2="825.33" y2="587.49" stroke="#1a1a1a" stroke-width="1.1" stroke-linecap="butt"/>
<polygon points="829.80,591.50 823.49,588.80 826.43,585.52" fill="#1a1a1a"/>
<line x1="809.30" y1="666.60" x2="824.88" y2="651.57" stroke="#1a1a1a" stroke-width="1.1" stroke-linecap="butt"/>
<polygon points="829.20,647.40 826.05,653.50 822.99,650.33" fill="#1a1a1a"/>
<text x="418.10" y="648.40" font-size="12" font-weight="normal" textLength="54.90" lengthAdjust="spacingAndGlyphs">Wild-type</text>
<text x="413.60" y="661.90" font-size="12" font-weight="normal" textLength="63.30" lengthAdjust="spacingAndGlyphs">(Recipient)</text>
<line x1="484.60" y1="623.80" x2="506.80" y2="623.80" stroke="#1a1a1a" stroke-width="1.1" stroke-linecap="butt"/>
<polygon points="512.80,623.80 506.30,626.00 506.30,621.60" fill="#1a1a1a"/>
<text x="514.30" y="620.40" font-size="12" font-weight="normal" textLength="80.90" lengthAdjust="spacingAndGlyphs">i.p. Iso/αCD8</text>
<text x="534.70" y="634.50" font-size="12" font-weight="normal" textLength="37.40" lengthAdjust="spacingAndGlyphs">Day -1</text>
<line x1="593.10" y1="623.40" x2="614.70" y2="623.40" stroke="#1a1a1a" stroke-width="1.1" stroke-linecap="butt"/>
<polygon points="620.70,623.40 614.20,625.60 614.20,621.20" fill="#1a1a1a"/>
<text x="622.00" y="620.30" font-size="12" font-weight="normal" textLength="60.80" lengthAdjust="spacingAndGlyphs">s.c. MC38</text>
<text x="635.90" y="634.10" font-size="12" font-weight="normal" textLength="34.40" lengthAdjust="spacingAndGlyphs">Day 0</text>
<line x1="687.40" y1="623.60" x2="708.70" y2="623.60" stroke="#1a1a1a" stroke-width="1.1" stroke-linecap="butt"/>
<polygon points="714.70,623.60 708.20,625.80 708.20,621.40" fill="#1a1a1a"/>
<text x="718.10" y="618.50" font-size="12" font-weight="normal" textLength="77.50" lengthAdjust="spacingAndGlyphs">i.p. Iso/αCD8</text>
<text x="739.90" y="632.50" font-size="12" font-weight="normal" textLength="32.60" lengthAdjust="spacingAndGlyphs">Day 2</text>
<line x1="796.40" y1="623.00" x2="818.00" y2="623.00" stroke="#1a1a1a" stroke-width="1.1" stroke-linecap="butt"/>
<polygon points="824.00,623.00 817.50,625.20 817.50,620.80" fill="#1a1a1a"/>
<text x="827.10" y="618.50" font-size="12" font-weight="normal" textLength="67.00" lengthAdjust="spacingAndGlyphs">NK transfer</text>
<text x="842.40" y="632.50" font-size="12" font-weight="normal" textLength="33.30" lengthAdjust="spacingAndGlyphs">Day 3</text>
<line x1="898.60" y1="623.00" x2="920.50" y2="623.00" stroke="#1a1a1a" stroke-width="1.1" stroke-linecap="butt"/>
<polygon points="926.50,623.00 920.00,625.20 920.00,620.80" fill="#1a1a1a"/>
<text x="948.00" y="619.80" font-size="12" font-weight="normal" textLength="44.10" lengthAdjust="spacingAndGlyphs">Monitor</text>
<text x="932.20" y="631.70" font-size="12" font-weight="normal" textLength="76.80" lengthAdjust="spacingAndGlyphs">tumor growth</text>
<text x="1028.60" y="546.70" font-size="30">I</text>
<text x="1135.30" y="545.30" font-size="15.2" textLength="39.70" lengthAdjust="spacingAndGlyphs">MC38</text>
<line x1="1100.70" y1="684.50" x2="1100.70" y2="564.90" stroke="#000" stroke-width="1.6" stroke-linecap="butt"/>
<line x1="1096.50" y1="683.70" x2="1100.70" y2="683.70" stroke="#000" stroke-width="1.6" stroke-linecap="butt"/>
<text x="1088.25" y="687.90" font-size="12" textLength="6.25" lengthAdjust="spacingAndGlyphs">0</text>
<line x1="1096.50" y1="654.00" x2="1100.70" y2="654.00" stroke="#000" stroke-width="1.6" stroke-linecap="butt"/>
<text x="1075.75" y="658.20" font-size="12" textLength="18.75" lengthAdjust="spacingAndGlyphs">500</text>
<line x1="1096.50" y1="624.30" x2="1100.70" y2="624.30" stroke="#000" stroke-width="1.6" stroke-linecap="butt"/>
<text x="1069.50" y="628.50" font-size="12" textLength="25.00" lengthAdjust="spacingAndGlyphs">1000</text>
<line x1="1096.50" y1="594.60" x2="1100.70" y2="594.60" stroke="#000" stroke-width="1.6" stroke-linecap="butt"/>
<text x="1069.50" y="598.80" font-size="12" textLength="25.00" lengthAdjust="spacingAndGlyphs">1500</text>
<line x1="1096.50" y1="564.90" x2="1100.70" y2="564.90" stroke="#000" stroke-width="1.6" stroke-linecap="butt"/>
<text x="1069.50" y="569.10" font-size="12" textLength="25.00" lengthAdjust="spacingAndGlyphs">2000</text>
<line x1="1099.90" y1="683.70" x2="1212.30" y2="683.70" stroke="#000" stroke-width="1.6" stroke-linecap="butt"/>
<line x1="1100.70" y1="683.70" x2="1100.70" y2="687.90" stroke="#000" stroke-width="1.6" stroke-linecap="butt"/>
<text x="1097.65" y="701.00" font-size="11.6" textLength="6.10" lengthAdjust="spacingAndGlyphs">6</text>
<line x1="1128.40" y1="683.70" x2="1128.40" y2="687.90" stroke="#000" stroke-width="1.6" stroke-linecap="butt"/>
<text x="1125.35" y="701.00" font-size="11.6" textLength="6.10" lengthAdjust="spacingAndGlyphs">9</text>
<line x1="1156.10" y1="683.70" x2="1156.10" y2="687.90" stroke="#000" stroke-width="1.6" stroke-linecap="butt"/>
<text x="1150.00" y="701.00" font-size="11.6" textLength="12.20" lengthAdjust="spacingAndGlyphs">12</text>
<line x1="1183.80" y1="683.70" x2="1183.80" y2="687.90" stroke="#000" stroke-width="1.6" stroke-linecap="butt"/>
<text x="1177.70" y="701.00" font-size="11.6" textLength="12.20" lengthAdjust="spacingAndGlyphs">15</text>
<line x1="1211.50" y1="683.70" x2="1211.50" y2="687.90" stroke="#000" stroke-width="1.6" stroke-linecap="butt"/>
<text x="1205.40" y="701.00" font-size="11.6" textLength="12.20" lengthAdjust="spacingAndGlyphs">18</text>
<line x1="1156.10" y1="649.90" x2="1156.10" y2="632.50" stroke="#ff0000" stroke-width="1.8" stroke-linecap="butt"/>
<line x1="1152.80" y1="632.50" x2="1159.40" y2="632.50" stroke="#ff0000" stroke-width="2.0" stroke-linecap="butt"/>
<line x1="1183.80" y1="624.72" x2="1183.80" y2="609.69" stroke="#ff0000" stroke-width="1.8" stroke-linecap="butt"/>
<line x1="1180.50" y1="609.69" x2="1187.10" y2="609.69" stroke="#ff0000" stroke-width="2.0" stroke-linecap="butt"/>
<line x1="1211.50" y1="598.70" x2="1211.50" y2="571.91" stroke="#ff0000" stroke-width="1.8" stroke-linecap="butt"/>
<line x1="1208.20" y1="571.91" x2="1214.80" y2="571.91" stroke="#ff0000" stroke-width="2.0" stroke-linecap="butt"/>
<polyline points="1100.70,680.14 1128.40,671.82 1156.10,649.90 1183.80,624.72 1211.50,598.70" fill="none" stroke="#ff0000" stroke-width="2.6" stroke-dasharray="4.6 2.6" stroke-linecap="butt"/>
<polygon points="1100.70,676.03 1104.50,682.87 1096.90,682.87" fill="#ff0000"/>
<polygon points="1128.40,667.72 1132.20,674.56 1124.60,674.56" fill="#ff0000"/>
<polygon points="1156.10,645.80 1159.90,652.64 1152.30,652.64" fill="#ff0000"/>
<polygon points="1183.80,620.61 1187.60,627.45 1180.00,627.45" fill="#ff0000"/>
<polygon points="1211.50,594.59 1215.30,601.43 1207.70,601.43" fill="#ff0000"/>
<line x1="1156.10" y1="649.49" x2="1156.10" y2="634.28" stroke="#0000ff" stroke-width="1.8" stroke-linecap="butt"/>
<line x1="1152.80" y1="634.28" x2="1159.40" y2="634.28" stroke="#0000ff" stroke-width="2.0" stroke-linecap="butt"/>
<line x1="1183.80" y1="621.81" x2="1183.80" y2="591.81" stroke="#0000ff" stroke-width="1.8" stroke-linecap="butt"/>
<line x1="1180.50" y1="591.81" x2="1187.10" y2="591.81" stroke="#0000ff" stroke-width="2.0" stroke-linecap="butt"/>
<line x1="1211.50" y1="596.50" x2="1211.50" y2="565.79" stroke="#0000ff" stroke-width="1.8" stroke-linecap="butt"/>
<line x1="1208.20" y1="565.79" x2="1214.80" y2="565.79" stroke="#0000ff" stroke-width="2.0" stroke-linecap="butt"/>
<polyline points="1100.70,678.95 1128.40,671.58 1156.10,649.49 1183.80,621.81 1211.50,596.50" fill="none" stroke="#0000ff" stroke-width="2.6" stroke-dasharray="4.6 2.6" stroke-linecap="butt"/>
<rect x="1097.20" y="675.45" width="7.0" height="7.0" fill="#0000ff"/>
<rect x="1124.90" y="668.08" width="7.0" height="7.0" fill="#0000ff"/>
<rect x="1152.60" y="645.99" width="7.0" height="7.0" fill="#0000ff"/>
<rect x="1180.30" y="618.31" width="7.0" height="7.0" fill="#0000ff"/>
<rect x="1208.00" y="593.00" width="7.0" height="7.0" fill="#0000ff"/>
<line x1="1128.40" y1="667.72" x2="1128.40" y2="661.19" stroke="#000" stroke-width="1.8" stroke-linecap="butt"/>
<line x1="1125.10" y1="661.19" x2="1131.70" y2="661.19" stroke="#000" stroke-width="2.0" stroke-linecap="butt"/>
<line x1="1156.10" y1="644.32" x2="1156.10" y2="629.11" stroke="#000" stroke-width="1.8" stroke-linecap="butt"/>
<line x1="1152.80" y1="629.11" x2="1159.40" y2="629.11" stroke="#000" stroke-width="2.0" stroke-linecap="butt"/>
<line x1="1183.80" y1="619.49" x2="1183.80" y2="597.51" stroke="#000" stroke-width="1.8" stroke-linecap="butt"/>
<line x1="1180.50" y1="597.51" x2="1187.10" y2="597.51" stroke="#000" stroke-width="2.0" stroke-linecap="butt"/>
<line x1="1211.50" y1="590.09" x2="1211.50" y2="566.68" stroke="#000" stroke-width="1.8" stroke-linecap="butt"/>
<line x1="1208.20" y1="566.68" x2="1214.80" y2="566.68" stroke="#000" stroke-width="2.0" stroke-linecap="butt"/>
<polyline points="1100.70,678.00 1128.40,667.72 1156.10,644.32 1183.80,619.49 1211.50,590.09" fill="none" stroke="#000" stroke-width="2.6" stroke-dasharray="4.6 2.6" stroke-linecap="butt"/>
<circle cx="1100.70" cy="678.00" r="3.6" fill="#000"/>
<circle cx="1128.40" cy="667.72" r="3.6" fill="#000"/>
<circle cx="1156.10" cy="644.32" r="3.6" fill="#000"/>
<circle cx="1183.80" cy="619.49" r="3.6" fill="#000"/>
<circle cx="1211.50" cy="590.09" r="3.6" fill="#000"/>
<line x1="1211.50" y1="672.77" x2="1211.50" y2="669.03" stroke="#ff0000" stroke-width="1.8" stroke-linecap="butt"/>
<line x1="1208.20" y1="669.03" x2="1214.80" y2="669.03" stroke="#ff0000" stroke-width="2.0" stroke-linecap="butt"/>
<polyline points="1100.70,683.11 1128.40,682.51 1156.10,680.73 1183.80,677.58 1211.50,672.77" fill="none" stroke="#ff0000" stroke-width="1.6"/>
<polygon points="1100.70,679.00 1104.50,685.84 1096.90,685.84" fill="#ff0000"/>
<polygon points="1128.40,678.41 1132.20,685.25 1124.60,685.25" fill="#ff0000"/>
<polygon points="1156.10,676.63 1159.90,683.47 1152.30,683.47" fill="#ff0000"/>
<polygon points="1183.80,673.48 1187.60,680.32 1180.00,680.32" fill="#ff0000"/>
<polygon points="1211.50,668.67 1215.30,675.51 1207.70,675.51" fill="#ff0000"/>
<polyline points="1100.70,679.54 1128.40,678.12 1156.10,672.12 1183.80,666.71 1211.50,651.33" fill="none" stroke="#0000ff" stroke-width="1.6"/>
<rect x="1097.20" y="676.04" width="7.0" height="7.0" fill="#0000ff"/>
<rect x="1124.90" y="674.62" width="7.0" height="7.0" fill="#0000ff"/>
<rect x="1152.60" y="668.62" width="7.0" height="7.0" fill="#0000ff"/>
<rect x="1180.30" y="663.21" width="7.0" height="7.0" fill="#0000ff"/>
<rect x="1208.00" y="647.83" width="7.0" height="7.0" fill="#0000ff"/>
<line x1="1156.10" y1="668.08" x2="1156.10" y2="662.02" stroke="#000" stroke-width="1.8" stroke-linecap="butt"/>
<line x1="1152.80" y1="662.02" x2="1159.40" y2="662.02" stroke="#000" stroke-width="2.0" stroke-linecap="butt"/>
<line x1="1183.80" y1="661.72" x2="1183.80" y2="653.41" stroke="#000" stroke-width="1.8" stroke-linecap="butt"/>
<line x1="1180.50" y1="653.41" x2="1187.10" y2="653.41" stroke="#000" stroke-width="2.0" stroke-linecap="butt"/>
<line x1="1211.50" y1="640.93" x2="1211.50" y2="623.88" stroke="#000" stroke-width="1.8" stroke-linecap="butt"/>
<line x1="1208.20" y1="623.88" x2="1214.80" y2="623.88" stroke="#000" stroke-width="2.0" stroke-linecap="butt"/>
<polyline points="1100.70,678.00 1128.40,676.39 1156.10,668.08 1183.80,661.72 1211.50,640.93" fill="none" stroke="#000" stroke-width="1.6"/>
<circle cx="1100.70" cy="678.00" r="3.6" fill="#000"/>
<circle cx="1128.40" cy="676.39" r="3.6" fill="#000"/>
<circle cx="1156.10" cy="668.08" r="3.6" fill="#000"/>
<circle cx="1183.80" cy="661.72" r="3.6" fill="#000"/>
<circle cx="1211.50" cy="640.93" r="3.6" fill="#000"/>
<text x="0.00" y="0.00" font-size="15.5" textLength="122.80" lengthAdjust="spacingAndGlyphs" transform="translate(1059.30,685.00) rotate(-90)">Tumor size (mm<tspan font-size="11" dy="-6">3</tspan><tspan dy="6">)</tspan></text>
<text x="1138.00" y="717.80" font-size="14" textLength="34.30" lengthAdjust="spacingAndGlyphs">Days</text>
<text x="0.00" y="0.00" font-size="10.5" textLength="29.90" lengthAdjust="spacingAndGlyphs" transform="translate(1238.70,610.40) rotate(-90)"><tspan font-weight="normal">Δ</tspan>CD8</text>
<text x="0.00" y="0.00" font-size="12" textLength="43.60" lengthAdjust="spacingAndGlyphs" transform="translate(1236.60,677.00) rotate(-90)">Isotype</text>
<line x1="1244.10" y1="574.50" x2="1244.10" y2="615.50" stroke="#000" stroke-width="1.6" stroke-linecap="butt"/>
<line x1="1244.10" y1="632.60" x2="1244.10" y2="673.60" stroke="#000" stroke-width="1.6" stroke-linecap="butt"/>
<line x1="1248.90" y1="576.20" x2="1253.20" y2="576.20" stroke="#000" stroke-width="2.6" stroke-linecap="butt"/>
<line x1="1262.00" y1="576.20" x2="1266.00" y2="576.20" stroke="#000" stroke-width="2.6" stroke-linecap="butt"/>
<circle cx="1257.50" cy="576.20" r="3.6" fill="#000"/>
<text x="1274.50" y="580.20" font-size="11" textLength="3.70" lengthAdjust="spacingAndGlyphs">-</text>
<line x1="1248.90" y1="595.90" x2="1253.20" y2="595.90" stroke="#0000ff" stroke-width="2.6" stroke-linecap="butt"/>
<line x1="1262.00" y1="595.90" x2="1266.00" y2="595.90" stroke="#0000ff" stroke-width="2.6" stroke-linecap="butt"/>
<rect x="1254.00" y="592.40" width="7.0" height="7.0" fill="#0000ff"/>
<text x="1279.10" y="601.60" font-size="12.6" textLength="6.70" lengthAdjust="spacingAndGlyphs">+</text>
<text x="1291.60" y="601.60" font-size="12.6" textLength="29.50" lengthAdjust="spacingAndGlyphs"><tspan font-style="italic">Tipe2</tspan></text>
<text x="1321.90" y="595.80" font-size="9.7" textLength="36.10" lengthAdjust="spacingAndGlyphs"><tspan font-style="italic">WT/WT</tspan></text>
<text x="1360.50" y="601.60" font-size="12.6" textLength="17.40" lengthAdjust="spacingAndGlyphs">NK</text>
<line x1="1248.90" y1="615.00" x2="1253.20" y2="615.00" stroke="#ff0000" stroke-width="2.6" stroke-linecap="butt"/>
<line x1="1262.00" y1="615.00" x2="1266.00" y2="615.00" stroke="#ff0000" stroke-width="2.6" stroke-linecap="butt"/>
<polygon points="1257.50,610.90 1261.30,617.74 1253.70,617.74" fill="#ff0000"/>
<text x="1279.10" y="620.70" font-size="12.6" textLength="6.70" lengthAdjust="spacingAndGlyphs">+</text>
<text x="1291.60" y="620.70" font-size="12.6" textLength="29.50" lengthAdjust="spacingAndGlyphs"><tspan font-style="italic">Tipe2</tspan></text>
<text x="1323.10" y="613.60" font-size="9.7" textLength="43.20" lengthAdjust="spacingAndGlyphs"><tspan font-style="italic"><tspan font-weight="normal" font-style="normal">Δ</tspan>NK/<tspan font-weight="normal" font-style="normal">Δ</tspan>NK</tspan></text>
<text x="1369.60" y="620.70" font-size="12.6" textLength="18.30" lengthAdjust="spacingAndGlyphs">NK</text>
<line x1="1248.90" y1="634.80" x2="1266.00" y2="634.80" stroke="#000" stroke-width="1.6" stroke-linecap="butt"/>
<circle cx="1257.50" cy="634.80" r="3.6" fill="#000"/>
<text x="1274.50" y="638.80" font-size="11" textLength="3.70" lengthAdjust="spacingAndGlyphs">-</text>
<line x1="1248.90" y1="653.10" x2="1266.00" y2="653.10" stroke="#0000ff" stroke-width="1.6" stroke-linecap="butt"/>
<rect x="1254.00" y="649.60" width="7.0" height="7.0" fill="#0000ff"/>
<text x="1279.10" y="658.80" font-size="12.6" textLength="6.70" lengthAdjust="spacingAndGlyphs">+</text>
<text x="1291.60" y="658.80" font-size="12.6" textLength="29.50" lengthAdjust="spacingAndGlyphs"><tspan font-style="italic">Tipe2</tspan></text>
<text x="1321.90" y="653.00" font-size="9.7" textLength="36.10" lengthAdjust="spacingAndGlyphs"><tspan font-style="italic">WT/WT</tspan></text>
<text x="1360.50" y="658.80" font-size="12.6" textLength="17.40" lengthAdjust="spacingAndGlyphs">NK</text>
<line x1="1248.90" y1="671.90" x2="1266.00" y2="671.90" stroke="#ff0000" stroke-width="1.6" stroke-linecap="butt"/>
<polygon points="1257.50,667.80 1261.30,674.64 1253.70,674.64" fill="#ff0000"/>
<text x="1279.10" y="677.60" font-size="12.6" textLength="6.70" lengthAdjust="spacingAndGlyphs">+</text>
<text x="1291.60" y="677.60" font-size="12.6" textLength="29.50" lengthAdjust="spacingAndGlyphs"><tspan font-style="italic">Tipe2</tspan></text>
<text x="1323.10" y="670.50" font-size="9.7" textLength="43.20" lengthAdjust="spacingAndGlyphs"><tspan font-style="italic"><tspan font-weight="normal" font-style="normal">Δ</tspan>NK/<tspan font-weight="normal" font-style="normal">Δ</tspan>NK</tspan></text>
<text x="1369.60" y="677.60" font-size="12.6" textLength="18.30" lengthAdjust="spacingAndGlyphs">NK</text>
<line x1="1392.00" y1="591.30" x2="1392.00" y2="616.40" stroke="#000" stroke-width="1.6" stroke-linecap="butt"/>
<line x1="1406.40" y1="576.20" x2="1406.40" y2="617.20" stroke="#000" stroke-width="1.6" stroke-linecap="butt"/>
<line x1="1392.00" y1="650.50" x2="1392.00" y2="676.10" stroke="#000" stroke-width="1.6" stroke-linecap="butt"/>
<line x1="1404.30" y1="635.10" x2="1404.30" y2="677.00" stroke="#000" stroke-width="1.6" stroke-linecap="butt"/>
<text x="0.00" y="0.00" font-size="10" textLength="23.10" lengthAdjust="spacingAndGlyphs" transform="translate(1394.00,591.60) rotate(90)">N.S.</text>
<text x="0.00" y="0.00" font-size="10" textLength="18.00" lengthAdjust="spacingAndGlyphs" transform="translate(1409.50,587.30) rotate(90)">N.S.</text>
<text x="1395.62" y="664.32" font-size="12">*</text>
<text x="1395.62" y="669.22" font-size="12">*</text>
<text x="1395.62" y="674.12" font-size="12">*</text>
<text x="1407.52" y="656.42" font-size="12">*</text>
<text x="1407.52" y="661.62" font-size="12">*</text>
<text x="1407.52" y="666.82" font-size="12">*</text>
</svg>
</body></html>
